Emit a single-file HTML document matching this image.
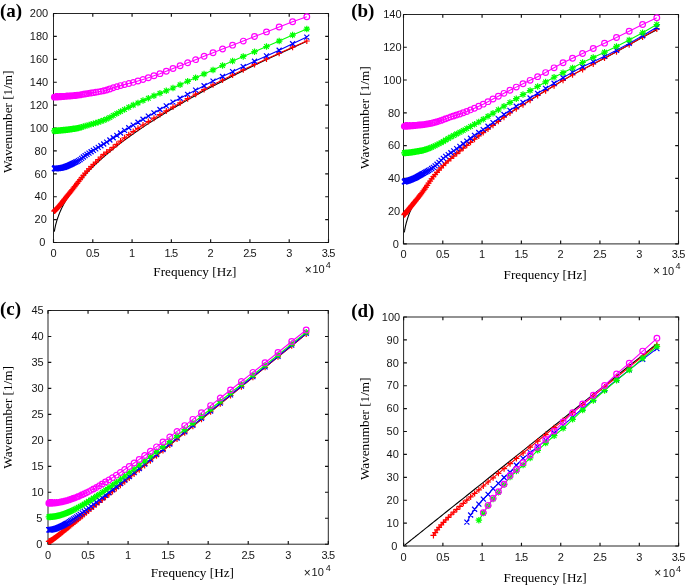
<!DOCTYPE html>
<html><head><meta charset="utf-8"><style>
html,body{margin:0;padding:0;background:#fff;overflow:hidden;width:685px;height:586px;}
svg{display:block;will-change:transform;}
</style></head><body>
<svg width="685" height="586" viewBox="0 0 685 586">
<rect width="685" height="586" fill="#fff"/>
<rect x="53.5" y="13.5" width="275" height="229" fill="none" stroke="#262626" stroke-width="1"/>
<path d="M53.5 242.5v-3.3M53.5 13.5v3.3M92.79 242.5v-3.3M92.79 13.5v3.3M132.07 242.5v-3.3M132.07 13.5v3.3M171.36 242.5v-3.3M171.36 13.5v3.3M210.64 242.5v-3.3M210.64 13.5v3.3M249.93 242.5v-3.3M249.93 13.5v3.3M289.21 242.5v-3.3M289.21 13.5v3.3M328.5 242.5v-3.3M328.5 13.5v3.3M53.5 242.5h3.3M328.5 242.5h-3.3M53.5 219.6h3.3M328.5 219.6h-3.3M53.5 196.7h3.3M328.5 196.7h-3.3M53.5 173.8h3.3M328.5 173.8h-3.3M53.5 150.9h3.3M328.5 150.9h-3.3M53.5 128h3.3M328.5 128h-3.3M53.5 105.1h3.3M328.5 105.1h-3.3M53.5 82.2h3.3M328.5 82.2h-3.3M53.5 59.3h3.3M328.5 59.3h-3.3M53.5 36.4h3.3M328.5 36.4h-3.3M53.5 13.5h3.3M328.5 13.5h-3.3" stroke="#111" stroke-width="1.15" fill="none"/>
<clipPath id="cpa"><rect x="49.5" y="9.5" width="283.0" height="237.0"/></clipPath>
<g clip-path="url(#cpa)" fill="none" stroke-width="1.1">
<polyline stroke="#000000" points="54.33,231.62 54.38,231.3 54.43,230.97 54.49,230.63 54.54,230.28 54.61,229.92 54.67,229.56 54.74,229.18 54.82,228.79 54.89,228.38 54.98,227.97 55.07,227.54 55.16,227.1 55.26,226.65 55.36,226.19 55.47,225.71 55.59,225.22 55.72,224.71 55.85,224.19 55.99,223.65 56.13,223.09 56.29,222.53 56.46,221.94 56.63,221.33 56.82,220.71 57.02,220.07 57.23,219.41 57.45,218.74 57.68,218.04 57.93,217.32 58.2,216.58 58.48,215.82 58.77,215.03 59.08,214.23 59.42,213.4 59.77,212.54 60.14,211.66 60.54,210.75 60.96,209.82 61.4,208.86 61.87,207.87 62.37,206.85 62.9,205.8 63.45,204.72 64.05,203.6 64.67,202.46 65.34,201.28 66.04,200.06 66.79,198.81 67.58,197.52 68.42,196.19 69.31,194.82 70.25,193.42 71.24,191.97 72.3,190.47 73.42,188.93 74.6,187.35 75.86,185.71 77.19,184.03 78.6,182.3 80.09,180.51 81.67,178.67 83.35,176.77 85.12,174.82 87.01,172.81 89,170.73 91.11,168.59 93.35,166.38 95.72,164.11 98.23,161.77 100.89,159.35 103.71,156.86 106.7,154.28 109.87,151.63 113.22,148.9 116.78,146.08 120.54,143.16 124.53,140.16 128.76,137.06 133.23,133.86 137.98,130.55 143,127.14 148.33,123.62 153.97,119.98 159.95,116.22 166.28,112.33 172.99,108.31 180.1,104.16 187.64,99.86 195.62,95.42 204.07,90.82 213.03,86.07 222.53,81.14 232.58,76.04 243.24,70.76 254.53,65.29 266.49,59.61 279.16,53.73 292.59,47.63 306.81,41.32"/>
<polyline stroke="#ff0000" points="54.33,211.04 54.38,210.99 54.43,210.95 54.49,210.89 54.54,210.84 54.61,210.78 54.67,210.71 54.74,210.65 54.82,210.57 54.89,210.5 54.98,210.42 55.07,210.33 55.16,210.24 55.26,210.14 55.36,210.04 55.47,209.93 55.59,209.81 55.72,209.69 55.85,209.56 55.99,209.41 56.13,209.26 56.29,209.1 56.46,208.93 56.63,208.75 56.82,208.56 57.02,208.35 57.23,208.13 57.45,207.89 57.68,207.64 57.93,207.37 58.2,207.09 58.48,206.78 58.77,206.45 59.08,206.1 59.42,205.73 59.77,205.33 60.14,204.9 60.54,204.43 60.96,203.92 61.4,203.37 61.87,202.77 62.37,202.13 62.9,201.44 63.45,200.71 64.05,199.92 64.67,199.1 65.34,198.24 66.04,197.34 66.79,196.4 67.58,195.42 68.42,194.38 69.31,193.28 70.25,192.11 71.24,190.87 72.3,189.54 73.42,188.12 74.6,186.61 75.86,185 77.19,183.3 78.6,181.49 80.09,179.57 81.67,177.55 83.35,175.39 85.12,173.18 87.01,171.04 89,168.87 91.11,166.66 93.35,164.4 95.72,162.05 98.23,159.56 100.89,156.99 103.71,154.44 106.7,152.08 109.87,149.95 113.22,147.37 116.78,144.35 120.54,141.08 124.53,137.81 128.76,134.67 133.23,131.5 137.98,128.28 143,124.98 148.33,121.59 153.97,118.13 159.95,114.61 166.28,110.96 172.99,107.08 180.1,102.94 187.64,98.63 195.62,94.17 204.07,89.52 213.03,84.77 222.53,80.01 232.58,75.09 243.24,69.84 254.53,64.39 266.49,58.88 279.16,53.19 292.59,47.19 306.81,40.98"/>
<path stroke="#ff0000" stroke-width="1.2" d="M51.33 211.04h6M54.33 208.04v6M51.38 210.99h6M54.38 207.99v6M51.43 210.95h6M54.43 207.95v6M51.49 210.89h6M54.49 207.89v6M51.54 210.84h6M54.54 207.84v6M51.61 210.78h6M54.61 207.78v6M51.67 210.71h6M54.67 207.71v6M51.74 210.65h6M54.74 207.65v6M51.82 210.57h6M54.82 207.57v6M51.89 210.5h6M54.89 207.5v6M51.98 210.42h6M54.98 207.42v6M52.07 210.33h6M55.07 207.33v6M52.16 210.24h6M55.16 207.24v6M52.26 210.14h6M55.26 207.14v6M52.36 210.04h6M55.36 207.04v6M52.47 209.93h6M55.47 206.93v6M52.59 209.81h6M55.59 206.81v6M52.72 209.69h6M55.72 206.69v6M52.85 209.56h6M55.85 206.56v6M52.99 209.41h6M55.99 206.41v6M53.13 209.26h6M56.13 206.26v6M53.29 209.1h6M56.29 206.1v6M53.46 208.93h6M56.46 205.93v6M53.63 208.75h6M56.63 205.75v6M53.82 208.56h6M56.82 205.56v6M54.02 208.35h6M57.02 205.35v6M54.23 208.13h6M57.23 205.13v6M54.45 207.89h6M57.45 204.89v6M54.68 207.64h6M57.68 204.64v6M54.93 207.37h6M57.93 204.37v6M55.2 207.09h6M58.2 204.09v6M55.48 206.78h6M58.48 203.78v6M55.77 206.45h6M58.77 203.45v6M56.08 206.1h6M59.08 203.1v6M56.42 205.73h6M59.42 202.73v6M56.77 205.33h6M59.77 202.33v6M57.14 204.9h6M60.14 201.9v6M57.54 204.43h6M60.54 201.43v6M57.96 203.92h6M60.96 200.92v6M58.4 203.37h6M61.4 200.37v6M58.87 202.77h6M61.87 199.77v6M59.37 202.13h6M62.37 199.13v6M59.9 201.44h6M62.9 198.44v6M60.45 200.71h6M63.45 197.71v6M61.05 199.92h6M64.05 196.92v6M61.67 199.1h6M64.67 196.1v6M62.34 198.24h6M65.34 195.24v6M63.04 197.34h6M66.04 194.34v6M63.79 196.4h6M66.79 193.4v6M64.58 195.42h6M67.58 192.42v6M65.42 194.38h6M68.42 191.38v6M66.31 193.28h6M69.31 190.28v6M67.25 192.11h6M70.25 189.11v6M68.24 190.87h6M71.24 187.87v6M69.3 189.54h6M72.3 186.54v6M70.42 188.12h6M73.42 185.12v6M71.6 186.61h6M74.6 183.61v6M72.86 185h6M75.86 182v6M74.19 183.3h6M77.19 180.3v6M75.6 181.49h6M78.6 178.49v6M77.09 179.57h6M80.09 176.57v6M78.67 177.55h6M81.67 174.55v6M80.35 175.39h6M83.35 172.39v6M82.12 173.18h6M85.12 170.18v6M84.01 171.04h6M87.01 168.04v6M86 168.87h6M89 165.87v6M88.11 166.66h6M91.11 163.66v6M90.35 164.4h6M93.35 161.4v6M92.72 162.05h6M95.72 159.05v6M95.23 159.56h6M98.23 156.56v6M97.89 156.99h6M100.89 153.99v6M100.71 154.44h6M103.71 151.44v6M103.7 152.08h6M106.7 149.08v6M106.87 149.95h6M109.87 146.95v6M110.22 147.37h6M113.22 144.37v6M113.78 144.35h6M116.78 141.35v6M117.54 141.08h6M120.54 138.08v6M121.53 137.81h6M124.53 134.81v6M125.76 134.67h6M128.76 131.67v6M130.23 131.5h6M133.23 128.5v6M134.98 128.28h6M137.98 125.28v6M140 124.98h6M143 121.98v6M145.33 121.59h6M148.33 118.59v6M150.97 118.13h6M153.97 115.13v6M156.95 114.61h6M159.95 111.61v6M163.28 110.96h6M166.28 107.96v6M169.99 107.08h6M172.99 104.08v6M177.1 102.94h6M180.1 99.94v6M184.64 98.63h6M187.64 95.63v6M192.62 94.17h6M195.62 91.17v6M201.07 89.52h6M204.07 86.52v6M210.03 84.77h6M213.03 81.77v6M219.53 80.01h6M222.53 77.01v6M229.58 75.09h6M232.58 72.09v6M240.24 69.84h6M243.24 66.84v6M251.53 64.39h6M254.53 61.39v6M263.49 58.88h6M266.49 55.88v6M276.16 53.19h6M279.16 50.19v6M289.59 47.19h6M292.59 44.19v6M303.81 40.98h6M306.81 37.98v6"/>
<polyline stroke="#0000ff" points="54.33,168.64 54.38,168.63 54.43,168.63 54.49,168.63 54.54,168.63 54.61,168.63 54.67,168.62 54.74,168.62 54.82,168.62 54.89,168.61 54.98,168.61 55.07,168.6 55.16,168.6 55.26,168.59 55.36,168.59 55.47,168.58 55.59,168.57 55.72,168.56 55.85,168.55 55.99,168.54 56.13,168.53 56.29,168.52 56.46,168.5 56.63,168.49 56.82,168.47 57.02,168.45 57.23,168.43 57.45,168.4 57.68,168.37 57.93,168.34 58.2,168.31 58.48,168.27 58.77,168.23 59.08,168.19 59.42,168.14 59.77,168.09 60.14,168.03 60.54,167.97 60.96,167.9 61.4,167.83 61.87,167.75 62.37,167.66 62.9,167.54 63.45,167.4 64.05,167.22 64.67,167.01 65.34,166.77 66.04,166.51 66.79,166.21 67.58,165.9 68.42,165.57 69.31,165.19 70.25,164.75 71.24,164.27 72.3,163.74 73.42,163.18 74.6,162.59 75.86,161.99 77.19,161.33 78.6,160.57 80.09,159.63 81.67,158.42 83.35,157.04 85.12,155.68 87.01,154.39 89,153.06 91.11,151.71 93.35,150.32 95.72,148.88 98.23,147.36 100.89,145.75 103.71,144.01 106.7,142.09 109.87,140.02 113.22,137.79 116.78,135.43 120.54,132.96 124.53,130.4 128.76,127.79 133.23,125.07 137.98,122.24 143,119.29 148.33,116.19 153.97,112.92 159.95,109.46 166.28,105.83 172.99,102.09 180.1,98.26 187.64,94.3 195.62,90.14 204.07,85.71 213.03,81.11 222.53,76.46 232.58,71.66 243.24,66.58 254.53,61.29 266.49,55.92 279.16,50.21 292.59,43.76 306.81,37.09"/>
<path stroke="#0000ff" stroke-width="1.2" d="M51.83 166.14l5 5M51.83 171.14l5 -5M51.88 166.13l5 5M51.88 171.13l5 -5M51.93 166.13l5 5M51.93 171.13l5 -5M51.99 166.13l5 5M51.99 171.13l5 -5M52.04 166.13l5 5M52.04 171.13l5 -5M52.11 166.13l5 5M52.11 171.13l5 -5M52.17 166.12l5 5M52.17 171.12l5 -5M52.24 166.12l5 5M52.24 171.12l5 -5M52.32 166.12l5 5M52.32 171.12l5 -5M52.39 166.11l5 5M52.39 171.11l5 -5M52.48 166.11l5 5M52.48 171.11l5 -5M52.57 166.1l5 5M52.57 171.1l5 -5M52.66 166.1l5 5M52.66 171.1l5 -5M52.76 166.09l5 5M52.76 171.09l5 -5M52.86 166.09l5 5M52.86 171.09l5 -5M52.97 166.08l5 5M52.97 171.08l5 -5M53.09 166.07l5 5M53.09 171.07l5 -5M53.22 166.06l5 5M53.22 171.06l5 -5M53.35 166.05l5 5M53.35 171.05l5 -5M53.49 166.04l5 5M53.49 171.04l5 -5M53.63 166.03l5 5M53.63 171.03l5 -5M53.79 166.02l5 5M53.79 171.02l5 -5M53.96 166l5 5M53.96 171l5 -5M54.13 165.99l5 5M54.13 170.99l5 -5M54.32 165.97l5 5M54.32 170.97l5 -5M54.52 165.95l5 5M54.52 170.95l5 -5M54.73 165.93l5 5M54.73 170.93l5 -5M54.95 165.9l5 5M54.95 170.9l5 -5M55.18 165.87l5 5M55.18 170.87l5 -5M55.43 165.84l5 5M55.43 170.84l5 -5M55.7 165.81l5 5M55.7 170.81l5 -5M55.98 165.77l5 5M55.98 170.77l5 -5M56.27 165.73l5 5M56.27 170.73l5 -5M56.58 165.69l5 5M56.58 170.69l5 -5M56.92 165.64l5 5M56.92 170.64l5 -5M57.27 165.59l5 5M57.27 170.59l5 -5M57.64 165.53l5 5M57.64 170.53l5 -5M58.04 165.47l5 5M58.04 170.47l5 -5M58.46 165.4l5 5M58.46 170.4l5 -5M58.9 165.33l5 5M58.9 170.33l5 -5M59.37 165.25l5 5M59.37 170.25l5 -5M59.87 165.16l5 5M59.87 170.16l5 -5M60.4 165.04l5 5M60.4 170.04l5 -5M60.95 164.9l5 5M60.95 169.9l5 -5M61.55 164.72l5 5M61.55 169.72l5 -5M62.17 164.51l5 5M62.17 169.51l5 -5M62.84 164.27l5 5M62.84 169.27l5 -5M63.54 164.01l5 5M63.54 169.01l5 -5M64.29 163.71l5 5M64.29 168.71l5 -5M65.08 163.4l5 5M65.08 168.4l5 -5M65.92 163.07l5 5M65.92 168.07l5 -5M66.81 162.69l5 5M66.81 167.69l5 -5M67.75 162.25l5 5M67.75 167.25l5 -5M68.74 161.77l5 5M68.74 166.77l5 -5M69.8 161.24l5 5M69.8 166.24l5 -5M70.92 160.68l5 5M70.92 165.68l5 -5M72.1 160.09l5 5M72.1 165.09l5 -5M73.36 159.49l5 5M73.36 164.49l5 -5M74.69 158.83l5 5M74.69 163.83l5 -5M76.1 158.07l5 5M76.1 163.07l5 -5M77.59 157.13l5 5M77.59 162.13l5 -5M79.17 155.92l5 5M79.17 160.92l5 -5M80.85 154.54l5 5M80.85 159.54l5 -5M82.62 153.18l5 5M82.62 158.18l5 -5M84.51 151.89l5 5M84.51 156.89l5 -5M86.5 150.56l5 5M86.5 155.56l5 -5M88.61 149.21l5 5M88.61 154.21l5 -5M90.85 147.82l5 5M90.85 152.82l5 -5M93.22 146.38l5 5M93.22 151.38l5 -5M95.73 144.86l5 5M95.73 149.86l5 -5M98.39 143.25l5 5M98.39 148.25l5 -5M101.21 141.51l5 5M101.21 146.51l5 -5M104.2 139.59l5 5M104.2 144.59l5 -5M107.37 137.52l5 5M107.37 142.52l5 -5M110.72 135.29l5 5M110.72 140.29l5 -5M114.28 132.93l5 5M114.28 137.93l5 -5M118.04 130.46l5 5M118.04 135.46l5 -5M122.03 127.9l5 5M122.03 132.9l5 -5M126.26 125.29l5 5M126.26 130.29l5 -5M130.73 122.57l5 5M130.73 127.57l5 -5M135.48 119.74l5 5M135.48 124.74l5 -5M140.5 116.79l5 5M140.5 121.79l5 -5M145.83 113.69l5 5M145.83 118.69l5 -5M151.47 110.42l5 5M151.47 115.42l5 -5M157.45 106.96l5 5M157.45 111.96l5 -5M163.78 103.33l5 5M163.78 108.33l5 -5M170.49 99.59l5 5M170.49 104.59l5 -5M177.6 95.76l5 5M177.6 100.76l5 -5M185.14 91.8l5 5M185.14 96.8l5 -5M193.12 87.64l5 5M193.12 92.64l5 -5M201.57 83.21l5 5M201.57 88.21l5 -5M210.53 78.61l5 5M210.53 83.61l5 -5M220.03 73.96l5 5M220.03 78.96l5 -5M230.08 69.16l5 5M230.08 74.16l5 -5M240.74 64.08l5 5M240.74 69.08l5 -5M252.03 58.79l5 5M252.03 63.79l5 -5M263.99 53.42l5 5M263.99 58.42l5 -5M276.66 47.71l5 5M276.66 52.71l5 -5M290.09 41.26l5 5M290.09 46.26l5 -5M304.31 34.59l5 5M304.31 39.59l5 -5"/>
<polyline stroke="#00ff00" points="54.33,130.92 54.38,130.92 54.43,130.92 54.49,130.91 54.54,130.91 54.61,130.9 54.67,130.9 54.74,130.89 54.82,130.89 54.89,130.88 54.98,130.88 55.07,130.87 55.16,130.86 55.26,130.86 55.36,130.85 55.47,130.84 55.59,130.83 55.72,130.82 55.85,130.81 55.99,130.8 56.13,130.79 56.29,130.78 56.46,130.77 56.63,130.75 56.82,130.74 57.02,130.72 57.23,130.7 57.45,130.68 57.68,130.66 57.93,130.64 58.2,130.62 58.48,130.6 58.77,130.57 59.08,130.54 59.42,130.51 59.77,130.48 60.14,130.44 60.54,130.4 60.96,130.36 61.4,130.32 61.87,130.27 62.37,130.22 62.9,130.16 63.45,130.1 64.05,130.04 64.67,129.97 65.34,129.9 66.04,129.82 66.79,129.73 67.58,129.63 68.42,129.53 69.31,129.42 70.25,129.29 71.24,129.15 72.3,129 73.42,128.83 74.6,128.64 75.86,128.43 77.19,128.19 78.6,127.91 80.09,127.58 81.67,127.14 83.35,126.6 85.12,126.04 87.01,125.48 89,124.91 91.11,124.31 93.35,123.67 95.72,122.98 98.23,122.21 100.89,121.33 103.71,120.31 106.7,119.06 109.87,117.41 113.22,115.51 116.78,113.6 120.54,111.59 124.53,109.46 128.76,107.29 133.23,105.12 137.98,102.9 143,100.61 148.33,98.26 153.97,95.81 159.95,93.32 166.28,90.78 172.99,88.01 180.1,84.84 187.64,81.34 195.62,77.67 204.07,73.9 213.03,69.91 222.53,65.56 232.58,61 243.24,56.42 254.53,51.65 266.49,46.53 279.16,41.05 292.59,35.05 306.81,29.07"/>
<path stroke="#00ff00" stroke-width="1.2" d="M51.08 130.92h6.5M54.33 127.67v6.5M51.99 128.58l4.68 4.68M51.99 133.26l4.68 -4.68M51.13 130.92h6.5M54.38 127.67v6.5M52.04 128.58l4.68 4.68M52.04 133.26l4.68 -4.68M51.18 130.92h6.5M54.43 127.67v6.5M52.09 128.58l4.68 4.68M52.09 133.26l4.68 -4.68M51.24 130.91h6.5M54.49 127.66v6.5M52.15 128.57l4.68 4.68M52.15 133.25l4.68 -4.68M51.29 130.91h6.5M54.54 127.66v6.5M52.2 128.57l4.68 4.68M52.2 133.25l4.68 -4.68M51.36 130.9h6.5M54.61 127.65v6.5M52.27 128.56l4.68 4.68M52.27 133.24l4.68 -4.68M51.42 130.9h6.5M54.67 127.65v6.5M52.33 128.56l4.68 4.68M52.33 133.24l4.68 -4.68M51.49 130.89h6.5M54.74 127.64v6.5M52.4 128.55l4.68 4.68M52.4 133.23l4.68 -4.68M51.57 130.89h6.5M54.82 127.64v6.5M52.48 128.55l4.68 4.68M52.48 133.23l4.68 -4.68M51.64 130.88h6.5M54.89 127.63v6.5M52.55 128.54l4.68 4.68M52.55 133.22l4.68 -4.68M51.73 130.88h6.5M54.98 127.63v6.5M52.64 128.54l4.68 4.68M52.64 133.22l4.68 -4.68M51.82 130.87h6.5M55.07 127.62v6.5M52.73 128.53l4.68 4.68M52.73 133.21l4.68 -4.68M51.91 130.86h6.5M55.16 127.61v6.5M52.82 128.52l4.68 4.68M52.82 133.2l4.68 -4.68M52.01 130.86h6.5M55.26 127.61v6.5M52.92 128.52l4.68 4.68M52.92 133.2l4.68 -4.68M52.11 130.85h6.5M55.36 127.6v6.5M53.02 128.51l4.68 4.68M53.02 133.19l4.68 -4.68M52.22 130.84h6.5M55.47 127.59v6.5M53.13 128.5l4.68 4.68M53.13 133.18l4.68 -4.68M52.34 130.83h6.5M55.59 127.58v6.5M53.25 128.49l4.68 4.68M53.25 133.17l4.68 -4.68M52.47 130.82h6.5M55.72 127.57v6.5M53.38 128.48l4.68 4.68M53.38 133.16l4.68 -4.68M52.6 130.81h6.5M55.85 127.56v6.5M53.51 128.47l4.68 4.68M53.51 133.15l4.68 -4.68M52.74 130.8h6.5M55.99 127.55v6.5M53.65 128.46l4.68 4.68M53.65 133.14l4.68 -4.68M52.88 130.79h6.5M56.13 127.54v6.5M53.79 128.45l4.68 4.68M53.79 133.13l4.68 -4.68M53.04 130.78h6.5M56.29 127.53v6.5M53.95 128.44l4.68 4.68M53.95 133.12l4.68 -4.68M53.21 130.77h6.5M56.46 127.52v6.5M54.12 128.43l4.68 4.68M54.12 133.11l4.68 -4.68M53.38 130.75h6.5M56.63 127.5v6.5M54.29 128.41l4.68 4.68M54.29 133.09l4.68 -4.68M53.57 130.74h6.5M56.82 127.49v6.5M54.48 128.4l4.68 4.68M54.48 133.08l4.68 -4.68M53.77 130.72h6.5M57.02 127.47v6.5M54.68 128.38l4.68 4.68M54.68 133.06l4.68 -4.68M53.98 130.7h6.5M57.23 127.45v6.5M54.89 128.36l4.68 4.68M54.89 133.04l4.68 -4.68M54.2 130.68h6.5M57.45 127.43v6.5M55.11 128.34l4.68 4.68M55.11 133.02l4.68 -4.68M54.43 130.66h6.5M57.68 127.41v6.5M55.34 128.32l4.68 4.68M55.34 133l4.68 -4.68M54.68 130.64h6.5M57.93 127.39v6.5M55.59 128.3l4.68 4.68M55.59 132.98l4.68 -4.68M54.95 130.62h6.5M58.2 127.37v6.5M55.86 128.28l4.68 4.68M55.86 132.96l4.68 -4.68M55.23 130.6h6.5M58.48 127.35v6.5M56.14 128.26l4.68 4.68M56.14 132.94l4.68 -4.68M55.52 130.57h6.5M58.77 127.32v6.5M56.43 128.23l4.68 4.68M56.43 132.91l4.68 -4.68M55.83 130.54h6.5M59.08 127.29v6.5M56.74 128.2l4.68 4.68M56.74 132.88l4.68 -4.68M56.17 130.51h6.5M59.42 127.26v6.5M57.08 128.17l4.68 4.68M57.08 132.85l4.68 -4.68M56.52 130.48h6.5M59.77 127.23v6.5M57.43 128.14l4.68 4.68M57.43 132.82l4.68 -4.68M56.89 130.44h6.5M60.14 127.19v6.5M57.8 128.1l4.68 4.68M57.8 132.78l4.68 -4.68M57.29 130.4h6.5M60.54 127.15v6.5M58.2 128.06l4.68 4.68M58.2 132.74l4.68 -4.68M57.71 130.36h6.5M60.96 127.11v6.5M58.62 128.02l4.68 4.68M58.62 132.7l4.68 -4.68M58.15 130.32h6.5M61.4 127.07v6.5M59.06 127.98l4.68 4.68M59.06 132.66l4.68 -4.68M58.62 130.27h6.5M61.87 127.02v6.5M59.53 127.93l4.68 4.68M59.53 132.61l4.68 -4.68M59.12 130.22h6.5M62.37 126.97v6.5M60.03 127.88l4.68 4.68M60.03 132.56l4.68 -4.68M59.65 130.16h6.5M62.9 126.91v6.5M60.56 127.82l4.68 4.68M60.56 132.5l4.68 -4.68M60.2 130.1h6.5M63.45 126.85v6.5M61.11 127.76l4.68 4.68M61.11 132.44l4.68 -4.68M60.8 130.04h6.5M64.05 126.79v6.5M61.71 127.7l4.68 4.68M61.71 132.38l4.68 -4.68M61.42 129.97h6.5M64.67 126.72v6.5M62.33 127.63l4.68 4.68M62.33 132.31l4.68 -4.68M62.09 129.9h6.5M65.34 126.65v6.5M63 127.56l4.68 4.68M63 132.24l4.68 -4.68M62.79 129.82h6.5M66.04 126.57v6.5M63.7 127.48l4.68 4.68M63.7 132.16l4.68 -4.68M63.54 129.73h6.5M66.79 126.48v6.5M64.45 127.39l4.68 4.68M64.45 132.07l4.68 -4.68M64.33 129.63h6.5M67.58 126.38v6.5M65.24 127.29l4.68 4.68M65.24 131.97l4.68 -4.68M65.17 129.53h6.5M68.42 126.28v6.5M66.08 127.19l4.68 4.68M66.08 131.87l4.68 -4.68M66.06 129.42h6.5M69.31 126.17v6.5M66.97 127.08l4.68 4.68M66.97 131.76l4.68 -4.68M67 129.29h6.5M70.25 126.04v6.5M67.91 126.95l4.68 4.68M67.91 131.63l4.68 -4.68M67.99 129.15h6.5M71.24 125.9v6.5M68.9 126.81l4.68 4.68M68.9 131.49l4.68 -4.68M69.05 129h6.5M72.3 125.75v6.5M69.96 126.66l4.68 4.68M69.96 131.34l4.68 -4.68M70.17 128.83h6.5M73.42 125.58v6.5M71.08 126.49l4.68 4.68M71.08 131.17l4.68 -4.68M71.35 128.64h6.5M74.6 125.39v6.5M72.26 126.3l4.68 4.68M72.26 130.98l4.68 -4.68M72.61 128.43h6.5M75.86 125.18v6.5M73.52 126.09l4.68 4.68M73.52 130.77l4.68 -4.68M73.94 128.19h6.5M77.19 124.94v6.5M74.85 125.85l4.68 4.68M74.85 130.53l4.68 -4.68M75.35 127.91h6.5M78.6 124.66v6.5M76.26 125.57l4.68 4.68M76.26 130.25l4.68 -4.68M76.84 127.58h6.5M80.09 124.33v6.5M77.75 125.24l4.68 4.68M77.75 129.92l4.68 -4.68M78.42 127.14h6.5M81.67 123.89v6.5M79.33 124.8l4.68 4.68M79.33 129.48l4.68 -4.68M80.1 126.6h6.5M83.35 123.35v6.5M81.01 124.26l4.68 4.68M81.01 128.94l4.68 -4.68M81.87 126.04h6.5M85.12 122.79v6.5M82.78 123.7l4.68 4.68M82.78 128.38l4.68 -4.68M83.76 125.48h6.5M87.01 122.23v6.5M84.67 123.14l4.68 4.68M84.67 127.82l4.68 -4.68M85.75 124.91h6.5M89 121.66v6.5M86.66 122.57l4.68 4.68M86.66 127.25l4.68 -4.68M87.86 124.31h6.5M91.11 121.06v6.5M88.77 121.97l4.68 4.68M88.77 126.65l4.68 -4.68M90.1 123.67h6.5M93.35 120.42v6.5M91.01 121.33l4.68 4.68M91.01 126.01l4.68 -4.68M92.47 122.98h6.5M95.72 119.73v6.5M93.38 120.64l4.68 4.68M93.38 125.32l4.68 -4.68M94.98 122.21h6.5M98.23 118.96v6.5M95.89 119.87l4.68 4.68M95.89 124.55l4.68 -4.68M97.64 121.33h6.5M100.89 118.08v6.5M98.55 118.99l4.68 4.68M98.55 123.67l4.68 -4.68M100.46 120.31h6.5M103.71 117.06v6.5M101.37 117.97l4.68 4.68M101.37 122.65l4.68 -4.68M103.45 119.06h6.5M106.7 115.81v6.5M104.36 116.72l4.68 4.68M104.36 121.4l4.68 -4.68M106.62 117.41h6.5M109.87 114.16v6.5M107.53 115.07l4.68 4.68M107.53 119.75l4.68 -4.68M109.97 115.51h6.5M113.22 112.26v6.5M110.88 113.17l4.68 4.68M110.88 117.85l4.68 -4.68M113.53 113.6h6.5M116.78 110.35v6.5M114.44 111.26l4.68 4.68M114.44 115.94l4.68 -4.68M117.29 111.59h6.5M120.54 108.34v6.5M118.2 109.25l4.68 4.68M118.2 113.93l4.68 -4.68M121.28 109.46h6.5M124.53 106.21v6.5M122.19 107.12l4.68 4.68M122.19 111.8l4.68 -4.68M125.51 107.29h6.5M128.76 104.04v6.5M126.42 104.95l4.68 4.68M126.42 109.63l4.68 -4.68M129.98 105.12h6.5M133.23 101.87v6.5M130.89 102.78l4.68 4.68M130.89 107.46l4.68 -4.68M134.73 102.9h6.5M137.98 99.65v6.5M135.64 100.56l4.68 4.68M135.64 105.24l4.68 -4.68M139.75 100.61h6.5M143 97.36v6.5M140.66 98.27l4.68 4.68M140.66 102.95l4.68 -4.68M145.08 98.26h6.5M148.33 95.01v6.5M145.99 95.92l4.68 4.68M145.99 100.6l4.68 -4.68M150.72 95.81h6.5M153.97 92.56v6.5M151.63 93.47l4.68 4.68M151.63 98.15l4.68 -4.68M156.7 93.32h6.5M159.95 90.07v6.5M157.61 90.98l4.68 4.68M157.61 95.66l4.68 -4.68M163.03 90.78h6.5M166.28 87.53v6.5M163.94 88.44l4.68 4.68M163.94 93.12l4.68 -4.68M169.74 88.01h6.5M172.99 84.76v6.5M170.65 85.67l4.68 4.68M170.65 90.35l4.68 -4.68M176.85 84.84h6.5M180.1 81.59v6.5M177.76 82.5l4.68 4.68M177.76 87.18l4.68 -4.68M184.39 81.34h6.5M187.64 78.09v6.5M185.3 79l4.68 4.68M185.3 83.68l4.68 -4.68M192.37 77.67h6.5M195.62 74.42v6.5M193.28 75.33l4.68 4.68M193.28 80.01l4.68 -4.68M200.82 73.9h6.5M204.07 70.65v6.5M201.73 71.56l4.68 4.68M201.73 76.24l4.68 -4.68M209.78 69.91h6.5M213.03 66.66v6.5M210.69 67.57l4.68 4.68M210.69 72.25l4.68 -4.68M219.28 65.56h6.5M222.53 62.31v6.5M220.19 63.22l4.68 4.68M220.19 67.9l4.68 -4.68M229.33 61h6.5M232.58 57.75v6.5M230.24 58.66l4.68 4.68M230.24 63.34l4.68 -4.68M239.99 56.42h6.5M243.24 53.17v6.5M240.9 54.08l4.68 4.68M240.9 58.76l4.68 -4.68M251.28 51.65h6.5M254.53 48.4v6.5M252.19 49.31l4.68 4.68M252.19 53.99l4.68 -4.68M263.24 46.53h6.5M266.49 43.28v6.5M264.15 44.19l4.68 4.68M264.15 48.87l4.68 -4.68M275.91 41.05h6.5M279.16 37.8v6.5M276.82 38.71l4.68 4.68M276.82 43.39l4.68 -4.68M289.34 35.05h6.5M292.59 31.8v6.5M290.25 32.71l4.68 4.68M290.25 37.39l4.68 -4.68M303.56 29.07h6.5M306.81 25.82v6.5M304.47 26.73l4.68 4.68M304.47 31.41l4.68 -4.68"/>
<polyline stroke="#ff00ff" points="54.33,97.15 54.38,97.15 54.43,97.14 54.49,97.14 54.54,97.14 54.61,97.13 54.67,97.13 54.74,97.12 54.82,97.12 54.89,97.11 54.98,97.11 55.07,97.1 55.16,97.1 55.26,97.09 55.36,97.09 55.47,97.08 55.59,97.07 55.72,97.06 55.85,97.05 55.99,97.05 56.13,97.04 56.29,97.03 56.46,97.02 56.63,97 56.82,96.99 57.02,96.98 57.23,96.96 57.45,96.95 57.68,96.93 57.93,96.92 58.2,96.9 58.48,96.88 58.77,96.86 59.08,96.84 59.42,96.81 59.77,96.79 60.14,96.76 60.54,96.73 60.96,96.7 61.4,96.67 61.87,96.63 62.37,96.6 62.9,96.56 63.45,96.51 64.05,96.47 64.67,96.42 65.34,96.36 66.04,96.31 66.79,96.25 67.58,96.18 68.42,96.11 69.31,96.04 70.25,95.96 71.24,95.87 72.3,95.78 73.42,95.67 74.6,95.56 75.86,95.43 77.19,95.28 78.6,95.11 80.09,94.91 81.67,94.64 83.35,94.32 85.12,93.99 87.01,93.66 89,93.34 91.11,93 93.35,92.65 95.72,92.27 98.23,91.85 100.89,91.36 103.71,90.77 106.7,90.01 109.87,88.94 113.22,87.73 116.78,86.64 120.54,85.62 124.53,84.62 128.76,83.57 133.23,82.4 137.98,81.01 143,79.45 148.33,77.7 153.97,75.77 159.95,73.65 166.28,71.23 172.99,68.55 180.1,65.77 187.64,62.81 195.62,59.66 204.07,56.3 213.03,52.73 222.53,48.98 232.58,45.16 243.24,41.09 254.53,36.52 266.49,31.91 279.16,27.07 292.59,21.75 306.81,16.71"/>
<path stroke="#ff00ff" stroke-width="1.2" d="M51.48 97.15a2.85 2.85 0 1 0 5.7 0a2.85 2.85 0 1 0 -5.7 0M51.53 97.15a2.85 2.85 0 1 0 5.7 0a2.85 2.85 0 1 0 -5.7 0M51.58 97.14a2.85 2.85 0 1 0 5.7 0a2.85 2.85 0 1 0 -5.7 0M51.64 97.14a2.85 2.85 0 1 0 5.7 0a2.85 2.85 0 1 0 -5.7 0M51.69 97.14a2.85 2.85 0 1 0 5.7 0a2.85 2.85 0 1 0 -5.7 0M51.76 97.13a2.85 2.85 0 1 0 5.7 0a2.85 2.85 0 1 0 -5.7 0M51.82 97.13a2.85 2.85 0 1 0 5.7 0a2.85 2.85 0 1 0 -5.7 0M51.89 97.12a2.85 2.85 0 1 0 5.7 0a2.85 2.85 0 1 0 -5.7 0M51.97 97.12a2.85 2.85 0 1 0 5.7 0a2.85 2.85 0 1 0 -5.7 0M52.04 97.11a2.85 2.85 0 1 0 5.7 0a2.85 2.85 0 1 0 -5.7 0M52.13 97.11a2.85 2.85 0 1 0 5.7 0a2.85 2.85 0 1 0 -5.7 0M52.22 97.1a2.85 2.85 0 1 0 5.7 0a2.85 2.85 0 1 0 -5.7 0M52.31 97.1a2.85 2.85 0 1 0 5.7 0a2.85 2.85 0 1 0 -5.7 0M52.41 97.09a2.85 2.85 0 1 0 5.7 0a2.85 2.85 0 1 0 -5.7 0M52.51 97.09a2.85 2.85 0 1 0 5.7 0a2.85 2.85 0 1 0 -5.7 0M52.62 97.08a2.85 2.85 0 1 0 5.7 0a2.85 2.85 0 1 0 -5.7 0M52.74 97.07a2.85 2.85 0 1 0 5.7 0a2.85 2.85 0 1 0 -5.7 0M52.87 97.06a2.85 2.85 0 1 0 5.7 0a2.85 2.85 0 1 0 -5.7 0M53 97.05a2.85 2.85 0 1 0 5.7 0a2.85 2.85 0 1 0 -5.7 0M53.14 97.05a2.85 2.85 0 1 0 5.7 0a2.85 2.85 0 1 0 -5.7 0M53.28 97.04a2.85 2.85 0 1 0 5.7 0a2.85 2.85 0 1 0 -5.7 0M53.44 97.03a2.85 2.85 0 1 0 5.7 0a2.85 2.85 0 1 0 -5.7 0M53.61 97.02a2.85 2.85 0 1 0 5.7 0a2.85 2.85 0 1 0 -5.7 0M53.78 97a2.85 2.85 0 1 0 5.7 0a2.85 2.85 0 1 0 -5.7 0M53.97 96.99a2.85 2.85 0 1 0 5.7 0a2.85 2.85 0 1 0 -5.7 0M54.17 96.98a2.85 2.85 0 1 0 5.7 0a2.85 2.85 0 1 0 -5.7 0M54.38 96.96a2.85 2.85 0 1 0 5.7 0a2.85 2.85 0 1 0 -5.7 0M54.6 96.95a2.85 2.85 0 1 0 5.7 0a2.85 2.85 0 1 0 -5.7 0M54.83 96.93a2.85 2.85 0 1 0 5.7 0a2.85 2.85 0 1 0 -5.7 0M55.08 96.92a2.85 2.85 0 1 0 5.7 0a2.85 2.85 0 1 0 -5.7 0M55.35 96.9a2.85 2.85 0 1 0 5.7 0a2.85 2.85 0 1 0 -5.7 0M55.63 96.88a2.85 2.85 0 1 0 5.7 0a2.85 2.85 0 1 0 -5.7 0M55.92 96.86a2.85 2.85 0 1 0 5.7 0a2.85 2.85 0 1 0 -5.7 0M56.23 96.84a2.85 2.85 0 1 0 5.7 0a2.85 2.85 0 1 0 -5.7 0M56.57 96.81a2.85 2.85 0 1 0 5.7 0a2.85 2.85 0 1 0 -5.7 0M56.92 96.79a2.85 2.85 0 1 0 5.7 0a2.85 2.85 0 1 0 -5.7 0M57.29 96.76a2.85 2.85 0 1 0 5.7 0a2.85 2.85 0 1 0 -5.7 0M57.69 96.73a2.85 2.85 0 1 0 5.7 0a2.85 2.85 0 1 0 -5.7 0M58.11 96.7a2.85 2.85 0 1 0 5.7 0a2.85 2.85 0 1 0 -5.7 0M58.55 96.67a2.85 2.85 0 1 0 5.7 0a2.85 2.85 0 1 0 -5.7 0M59.02 96.63a2.85 2.85 0 1 0 5.7 0a2.85 2.85 0 1 0 -5.7 0M59.52 96.6a2.85 2.85 0 1 0 5.7 0a2.85 2.85 0 1 0 -5.7 0M60.05 96.56a2.85 2.85 0 1 0 5.7 0a2.85 2.85 0 1 0 -5.7 0M60.6 96.51a2.85 2.85 0 1 0 5.7 0a2.85 2.85 0 1 0 -5.7 0M61.2 96.47a2.85 2.85 0 1 0 5.7 0a2.85 2.85 0 1 0 -5.7 0M61.82 96.42a2.85 2.85 0 1 0 5.7 0a2.85 2.85 0 1 0 -5.7 0M62.49 96.36a2.85 2.85 0 1 0 5.7 0a2.85 2.85 0 1 0 -5.7 0M63.19 96.31a2.85 2.85 0 1 0 5.7 0a2.85 2.85 0 1 0 -5.7 0M63.94 96.25a2.85 2.85 0 1 0 5.7 0a2.85 2.85 0 1 0 -5.7 0M64.73 96.18a2.85 2.85 0 1 0 5.7 0a2.85 2.85 0 1 0 -5.7 0M65.57 96.11a2.85 2.85 0 1 0 5.7 0a2.85 2.85 0 1 0 -5.7 0M66.46 96.04a2.85 2.85 0 1 0 5.7 0a2.85 2.85 0 1 0 -5.7 0M67.4 95.96a2.85 2.85 0 1 0 5.7 0a2.85 2.85 0 1 0 -5.7 0M68.39 95.87a2.85 2.85 0 1 0 5.7 0a2.85 2.85 0 1 0 -5.7 0M69.45 95.78a2.85 2.85 0 1 0 5.7 0a2.85 2.85 0 1 0 -5.7 0M70.57 95.67a2.85 2.85 0 1 0 5.7 0a2.85 2.85 0 1 0 -5.7 0M71.75 95.56a2.85 2.85 0 1 0 5.7 0a2.85 2.85 0 1 0 -5.7 0M73.01 95.43a2.85 2.85 0 1 0 5.7 0a2.85 2.85 0 1 0 -5.7 0M74.34 95.28a2.85 2.85 0 1 0 5.7 0a2.85 2.85 0 1 0 -5.7 0M75.75 95.11a2.85 2.85 0 1 0 5.7 0a2.85 2.85 0 1 0 -5.7 0M77.24 94.91a2.85 2.85 0 1 0 5.7 0a2.85 2.85 0 1 0 -5.7 0M78.82 94.64a2.85 2.85 0 1 0 5.7 0a2.85 2.85 0 1 0 -5.7 0M80.5 94.32a2.85 2.85 0 1 0 5.7 0a2.85 2.85 0 1 0 -5.7 0M82.27 93.99a2.85 2.85 0 1 0 5.7 0a2.85 2.85 0 1 0 -5.7 0M84.16 93.66a2.85 2.85 0 1 0 5.7 0a2.85 2.85 0 1 0 -5.7 0M86.15 93.34a2.85 2.85 0 1 0 5.7 0a2.85 2.85 0 1 0 -5.7 0M88.26 93a2.85 2.85 0 1 0 5.7 0a2.85 2.85 0 1 0 -5.7 0M90.5 92.65a2.85 2.85 0 1 0 5.7 0a2.85 2.85 0 1 0 -5.7 0M92.87 92.27a2.85 2.85 0 1 0 5.7 0a2.85 2.85 0 1 0 -5.7 0M95.38 91.85a2.85 2.85 0 1 0 5.7 0a2.85 2.85 0 1 0 -5.7 0M98.04 91.36a2.85 2.85 0 1 0 5.7 0a2.85 2.85 0 1 0 -5.7 0M100.86 90.77a2.85 2.85 0 1 0 5.7 0a2.85 2.85 0 1 0 -5.7 0M103.85 90.01a2.85 2.85 0 1 0 5.7 0a2.85 2.85 0 1 0 -5.7 0M107.02 88.94a2.85 2.85 0 1 0 5.7 0a2.85 2.85 0 1 0 -5.7 0M110.37 87.73a2.85 2.85 0 1 0 5.7 0a2.85 2.85 0 1 0 -5.7 0M113.93 86.64a2.85 2.85 0 1 0 5.7 0a2.85 2.85 0 1 0 -5.7 0M117.69 85.62a2.85 2.85 0 1 0 5.7 0a2.85 2.85 0 1 0 -5.7 0M121.68 84.62a2.85 2.85 0 1 0 5.7 0a2.85 2.85 0 1 0 -5.7 0M125.91 83.57a2.85 2.85 0 1 0 5.7 0a2.85 2.85 0 1 0 -5.7 0M130.38 82.4a2.85 2.85 0 1 0 5.7 0a2.85 2.85 0 1 0 -5.7 0M135.13 81.01a2.85 2.85 0 1 0 5.7 0a2.85 2.85 0 1 0 -5.7 0M140.15 79.45a2.85 2.85 0 1 0 5.7 0a2.85 2.85 0 1 0 -5.7 0M145.48 77.7a2.85 2.85 0 1 0 5.7 0a2.85 2.85 0 1 0 -5.7 0M151.12 75.77a2.85 2.85 0 1 0 5.7 0a2.85 2.85 0 1 0 -5.7 0M157.1 73.65a2.85 2.85 0 1 0 5.7 0a2.85 2.85 0 1 0 -5.7 0M163.43 71.23a2.85 2.85 0 1 0 5.7 0a2.85 2.85 0 1 0 -5.7 0M170.14 68.55a2.85 2.85 0 1 0 5.7 0a2.85 2.85 0 1 0 -5.7 0M177.25 65.77a2.85 2.85 0 1 0 5.7 0a2.85 2.85 0 1 0 -5.7 0M184.79 62.81a2.85 2.85 0 1 0 5.7 0a2.85 2.85 0 1 0 -5.7 0M192.77 59.66a2.85 2.85 0 1 0 5.7 0a2.85 2.85 0 1 0 -5.7 0M201.22 56.3a2.85 2.85 0 1 0 5.7 0a2.85 2.85 0 1 0 -5.7 0M210.18 52.73a2.85 2.85 0 1 0 5.7 0a2.85 2.85 0 1 0 -5.7 0M219.68 48.98a2.85 2.85 0 1 0 5.7 0a2.85 2.85 0 1 0 -5.7 0M229.73 45.16a2.85 2.85 0 1 0 5.7 0a2.85 2.85 0 1 0 -5.7 0M240.39 41.09a2.85 2.85 0 1 0 5.7 0a2.85 2.85 0 1 0 -5.7 0M251.68 36.52a2.85 2.85 0 1 0 5.7 0a2.85 2.85 0 1 0 -5.7 0M263.64 31.91a2.85 2.85 0 1 0 5.7 0a2.85 2.85 0 1 0 -5.7 0M276.31 27.07a2.85 2.85 0 1 0 5.7 0a2.85 2.85 0 1 0 -5.7 0M289.74 21.75a2.85 2.85 0 1 0 5.7 0a2.85 2.85 0 1 0 -5.7 0M303.96 16.71a2.85 2.85 0 1 0 5.7 0a2.85 2.85 0 1 0 -5.7 0"/>
</g>
<g font-family="Liberation Sans, sans-serif" font-size="11" fill="#161616">
<text x="53.5" y="257.0" text-anchor="middle">0</text>
<text x="92.79" y="257.0" text-anchor="middle">0<tspan dx="-0.9">.</tspan><tspan dx="-0.9">5</tspan></text>
<text x="132.07" y="257.0" text-anchor="middle">1</text>
<text x="171.36" y="257.0" text-anchor="middle">1<tspan dx="-0.9">.</tspan><tspan dx="-0.9">5</tspan></text>
<text x="210.64" y="257.0" text-anchor="middle">2</text>
<text x="249.93" y="257.0" text-anchor="middle">2<tspan dx="-0.9">.</tspan><tspan dx="-0.9">5</tspan></text>
<text x="289.21" y="257.0" text-anchor="middle">3</text>
<text x="328.5" y="257.0" text-anchor="middle">3<tspan dx="-0.9">.</tspan><tspan dx="-0.9">5</tspan></text>
<text x="45.4" y="246.2" text-anchor="end">0</text>
<text x="46.8" y="223.3" text-anchor="end">20</text>
<text x="46.8" y="200.4" text-anchor="end">40</text>
<text x="46.8" y="177.5" text-anchor="end">60</text>
<text x="46.8" y="154.6" text-anchor="end">80</text>
<text x="48.2" y="131.7" text-anchor="end">100</text>
<text x="48.2" y="108.8" text-anchor="end">120</text>
<text x="48.2" y="85.9" text-anchor="end">140</text>
<text x="48.2" y="63" text-anchor="end">160</text>
<text x="48.2" y="40.1" text-anchor="end">180</text>
<text x="48.2" y="17.2" text-anchor="end">200</text>
<text x="304.8" y="273.9" font-size="12">×</text>
<text x="324.7" y="273.4" text-anchor="end">10</text>
<text x="325.65" y="267.6" font-size="9">4</text>
</g>
<text x="153.3" y="275.5" font-family="Liberation Serif, serif" font-size="13.2" fill="#000">Frequency [Hz]</text>
<text transform="translate(12.0 173.1) rotate(-90)" x="0" y="0" font-family="Liberation Serif, serif" font-size="13.2" fill="#000">Wavenumber [1/m]</text>
<text x="0.05" y="17.05" font-family="Liberation Serif, serif" font-weight="bold" font-size="19" fill="#000">(a)</text>
<rect x="403.5" y="14.5" width="275" height="229.4" fill="none" stroke="#262626" stroke-width="1"/>
<path d="M403.5 243.9v-3.3M403.5 14.5v3.3M442.79 243.9v-3.3M442.79 14.5v3.3M482.07 243.9v-3.3M482.07 14.5v3.3M521.36 243.9v-3.3M521.36 14.5v3.3M560.64 243.9v-3.3M560.64 14.5v3.3M599.93 243.9v-3.3M599.93 14.5v3.3M639.21 243.9v-3.3M639.21 14.5v3.3M678.5 243.9v-3.3M678.5 14.5v3.3M403.5 243.9h3.3M678.5 243.9h-3.3M403.5 211.13h3.3M678.5 211.13h-3.3M403.5 178.36h3.3M678.5 178.36h-3.3M403.5 145.59h3.3M678.5 145.59h-3.3M403.5 112.81h3.3M678.5 112.81h-3.3M403.5 80.04h3.3M678.5 80.04h-3.3M403.5 47.27h3.3M678.5 47.27h-3.3M403.5 14.5h3.3M678.5 14.5h-3.3" stroke="#111" stroke-width="1.15" fill="none"/>
<clipPath id="cpb"><rect x="399.5" y="10.5" width="283.0" height="237.4"/></clipPath>
<g clip-path="url(#cpb)" fill="none" stroke-width="1.1">
<polyline stroke="#000000" points="404.33,232.45 404.38,232.11 404.43,231.77 404.49,231.41 404.54,231.05 404.61,230.67 404.67,230.28 404.74,229.88 404.82,229.47 404.89,229.05 404.98,228.61 405.07,228.16 405.16,227.7 405.26,227.23 405.36,226.74 405.47,226.23 405.59,225.71 405.72,225.18 405.85,224.63 405.99,224.06 406.13,223.48 406.29,222.88 406.46,222.27 406.63,221.63 406.82,220.98 407.02,220.3 407.23,219.61 407.45,218.9 407.68,218.16 407.93,217.4 408.2,216.63 408.48,215.82 408.77,215 409.08,214.15 409.42,213.27 409.77,212.37 410.14,211.44 410.54,210.49 410.96,209.5 411.4,208.49 411.87,207.45 412.37,206.37 412.9,205.27 413.45,204.13 414.05,202.96 414.67,202 415.34,201.18 416.04,200.3 416.79,199.37 417.58,198.37 418.42,197.31 419.31,196.18 420.25,194.98 421.24,193.7 422.3,192.31 423.42,190.82 424.6,189.2 425.86,187.39 427.19,185.41 428.6,183.3 430.09,181.11 431.67,178.91 433.35,176.78 435.12,174.62 437.01,172.41 439,170.17 441.11,167.89 443.35,165.57 445.72,163.23 448.23,160.9 450.89,158.57 453.71,156.16 456.7,153.63 459.87,150.99 463.22,148.24 466.78,145.37 470.54,142.38 474.53,139.25 478.76,136.03 483.23,132.69 487.98,129.17 493,125.4 498.33,121.42 503.97,117.28 509.95,113.06 516.28,108.88 522.99,104.84 530.1,100.31 537.64,95.54 545.62,90.78 554.07,85.82 563.03,80.4 572.53,74.86 582.58,69.63 593.24,64.1 604.53,58.19 616.49,51.72 629.16,44.74 642.59,37.2 656.81,29.64"/>
<polyline stroke="#ff0000" points="404.33,214.68 404.38,214.62 404.43,214.56 404.49,214.49 404.54,214.42 404.61,214.34 404.67,214.26 404.74,214.17 404.82,214.08 404.89,213.98 404.98,213.88 405.07,213.77 405.16,213.65 405.26,213.53 405.36,213.4 405.47,213.26 405.59,213.12 405.72,212.96 405.85,212.8 405.99,212.62 406.13,212.44 406.29,212.24 406.46,212.04 406.63,211.82 406.82,211.59 407.02,211.34 407.23,211.08 407.45,210.81 407.68,210.52 407.93,210.21 408.2,209.88 408.48,209.54 408.77,209.17 409.08,208.78 409.42,208.37 409.77,207.93 410.14,207.47 410.54,206.98 410.96,206.47 411.4,205.92 411.87,205.35 412.37,204.74 412.9,204.1 413.45,203.41 414.05,202.69 414.67,201.92 415.34,201.1 416.04,200.22 416.79,199.29 417.58,198.29 418.42,197.23 419.31,196.1 420.25,194.9 421.24,193.61 422.3,192.23 423.42,190.74 424.6,189.11 425.86,187.3 427.19,185.33 428.6,183.22 430.09,181.03 431.67,178.83 433.35,176.7 435.12,174.53 437.01,172.33 439,170.09 441.11,167.81 443.35,165.49 445.72,163.15 448.23,160.82 450.89,158.48 453.71,156.08 456.7,153.55 459.87,150.91 463.22,148.15 466.78,145.28 470.54,142.29 474.53,139.17 478.76,135.94 483.23,132.61 487.98,129.09 493,125.32 498.33,121.34 503.97,117.2 509.95,112.98 516.28,108.8 522.99,104.76 530.1,100.23 537.64,95.46 545.62,90.7 554.07,85.74 563.03,80.31 572.53,74.78 582.58,69.55 593.24,64.02 604.53,58.1 616.49,51.64 629.16,44.66 642.59,37.11 656.81,28.92"/>
<path stroke="#ff0000" stroke-width="1.2" d="M401.33 214.68h6M404.33 211.68v6M401.38 214.62h6M404.38 211.62v6M401.43 214.56h6M404.43 211.56v6M401.49 214.49h6M404.49 211.49v6M401.54 214.42h6M404.54 211.42v6M401.61 214.34h6M404.61 211.34v6M401.67 214.26h6M404.67 211.26v6M401.74 214.17h6M404.74 211.17v6M401.82 214.08h6M404.82 211.08v6M401.89 213.98h6M404.89 210.98v6M401.98 213.88h6M404.98 210.88v6M402.07 213.77h6M405.07 210.77v6M402.16 213.65h6M405.16 210.65v6M402.26 213.53h6M405.26 210.53v6M402.36 213.4h6M405.36 210.4v6M402.47 213.26h6M405.47 210.26v6M402.59 213.12h6M405.59 210.12v6M402.72 212.96h6M405.72 209.96v6M402.85 212.8h6M405.85 209.8v6M402.99 212.62h6M405.99 209.62v6M403.13 212.44h6M406.13 209.44v6M403.29 212.24h6M406.29 209.24v6M403.46 212.04h6M406.46 209.04v6M403.63 211.82h6M406.63 208.82v6M403.82 211.59h6M406.82 208.59v6M404.02 211.34h6M407.02 208.34v6M404.23 211.08h6M407.23 208.08v6M404.45 210.81h6M407.45 207.81v6M404.68 210.52h6M407.68 207.52v6M404.93 210.21h6M407.93 207.21v6M405.2 209.88h6M408.2 206.88v6M405.48 209.54h6M408.48 206.54v6M405.77 209.17h6M408.77 206.17v6M406.08 208.78h6M409.08 205.78v6M406.42 208.37h6M409.42 205.37v6M406.77 207.93h6M409.77 204.93v6M407.14 207.47h6M410.14 204.47v6M407.54 206.98h6M410.54 203.98v6M407.96 206.47h6M410.96 203.47v6M408.4 205.92h6M411.4 202.92v6M408.87 205.35h6M411.87 202.35v6M409.37 204.74h6M412.37 201.74v6M409.9 204.1h6M412.9 201.1v6M410.45 203.41h6M413.45 200.41v6M411.05 202.69h6M414.05 199.69v6M411.67 201.92h6M414.67 198.92v6M412.34 201.1h6M415.34 198.1v6M413.04 200.22h6M416.04 197.22v6M413.79 199.29h6M416.79 196.29v6M414.58 198.29h6M417.58 195.29v6M415.42 197.23h6M418.42 194.23v6M416.31 196.1h6M419.31 193.1v6M417.25 194.9h6M420.25 191.9v6M418.24 193.61h6M421.24 190.61v6M419.3 192.23h6M422.3 189.23v6M420.42 190.74h6M423.42 187.74v6M421.6 189.11h6M424.6 186.11v6M422.86 187.3h6M425.86 184.3v6M424.19 185.33h6M427.19 182.33v6M425.6 183.22h6M428.6 180.22v6M427.09 181.03h6M430.09 178.03v6M428.67 178.83h6M431.67 175.83v6M430.35 176.7h6M433.35 173.7v6M432.12 174.53h6M435.12 171.53v6M434.01 172.33h6M437.01 169.33v6M436 170.09h6M439 167.09v6M438.11 167.81h6M441.11 164.81v6M440.35 165.49h6M443.35 162.49v6M442.72 163.15h6M445.72 160.15v6M445.23 160.82h6M448.23 157.82v6M447.89 158.48h6M450.89 155.48v6M450.71 156.08h6M453.71 153.08v6M453.7 153.55h6M456.7 150.55v6M456.87 150.91h6M459.87 147.91v6M460.22 148.15h6M463.22 145.15v6M463.78 145.28h6M466.78 142.28v6M467.54 142.29h6M470.54 139.29v6M471.53 139.17h6M474.53 136.17v6M475.76 135.94h6M478.76 132.94v6M480.23 132.61h6M483.23 129.61v6M484.98 129.09h6M487.98 126.09v6M490 125.32h6M493 122.32v6M495.33 121.34h6M498.33 118.34v6M500.97 117.2h6M503.97 114.2v6M506.95 112.98h6M509.95 109.98v6M513.28 108.8h6M516.28 105.8v6M519.99 104.76h6M522.99 101.76v6M527.1 100.23h6M530.1 97.23v6M534.64 95.46h6M537.64 92.46v6M542.62 90.7h6M545.62 87.7v6M551.07 85.74h6M554.07 82.74v6M560.03 80.31h6M563.03 77.31v6M569.53 74.78h6M572.53 71.78v6M579.58 69.55h6M582.58 66.55v6M590.24 64.02h6M593.24 61.02v6M601.53 58.1h6M604.53 55.1v6M613.49 51.64h6M616.49 48.64v6M626.16 44.66h6M629.16 41.66v6M639.59 37.11h6M642.59 34.11v6M653.81 28.92h6M656.81 25.92v6"/>
<polyline stroke="#0000ff" points="404.33,181.79 404.38,181.78 404.43,181.77 404.49,181.76 404.54,181.74 404.61,181.73 404.67,181.72 404.74,181.7 404.82,181.68 404.89,181.66 404.98,181.64 405.07,181.62 405.16,181.6 405.26,181.58 405.36,181.55 405.47,181.52 405.59,181.49 405.72,181.46 405.85,181.42 405.99,181.38 406.13,181.34 406.29,181.3 406.46,181.25 406.63,181.2 406.82,181.15 407.02,181.09 407.23,181.02 407.45,180.95 407.68,180.88 407.93,180.8 408.2,180.71 408.48,180.62 408.77,180.52 409.08,180.4 409.42,180.29 409.77,180.16 410.14,180.02 410.54,179.87 410.96,179.7 411.4,179.53 411.87,179.34 412.37,179.13 412.9,178.91 413.45,178.67 414.05,178.41 414.67,178.14 415.34,177.84 416.04,177.5 416.79,177.09 417.58,176.63 418.42,176.13 419.31,175.59 420.25,175.05 421.24,174.49 422.3,173.91 423.42,173.31 424.6,172.67 425.86,172 427.19,171.26 428.6,170.46 430.09,169.56 431.67,168.54 433.35,167.35 435.12,165.91 437.01,164.23 439,162.35 441.11,160.36 443.35,158.34 445.72,156.43 448.23,154.61 450.89,152.78 453.71,150.84 456.7,148.68 459.87,146.32 463.22,143.78 466.78,141.08 470.54,138.26 474.53,135.37 478.76,132.51 483.23,129.57 487.98,126.28 493,122.64 498.33,118.69 503.97,114.54 509.95,110.31 516.28,106.21 522.99,102.31 530.1,97.97 537.64,93.33 545.62,88.43 554.07,83.27 563.03,77.77 572.53,72.15 582.58,66.76 593.24,61.66 604.53,56.37 616.49,50.22 629.16,43.38 642.59,35.78 656.81,27.28"/>
<path stroke="#0000ff" stroke-width="1.2" d="M401.83 179.29l5 5M401.83 184.29l5 -5M401.88 179.28l5 5M401.88 184.28l5 -5M401.93 179.27l5 5M401.93 184.27l5 -5M401.99 179.26l5 5M401.99 184.26l5 -5M402.04 179.24l5 5M402.04 184.24l5 -5M402.11 179.23l5 5M402.11 184.23l5 -5M402.17 179.22l5 5M402.17 184.22l5 -5M402.24 179.2l5 5M402.24 184.2l5 -5M402.32 179.18l5 5M402.32 184.18l5 -5M402.39 179.16l5 5M402.39 184.16l5 -5M402.48 179.14l5 5M402.48 184.14l5 -5M402.57 179.12l5 5M402.57 184.12l5 -5M402.66 179.1l5 5M402.66 184.1l5 -5M402.76 179.08l5 5M402.76 184.08l5 -5M402.86 179.05l5 5M402.86 184.05l5 -5M402.97 179.02l5 5M402.97 184.02l5 -5M403.09 178.99l5 5M403.09 183.99l5 -5M403.22 178.96l5 5M403.22 183.96l5 -5M403.35 178.92l5 5M403.35 183.92l5 -5M403.49 178.88l5 5M403.49 183.88l5 -5M403.63 178.84l5 5M403.63 183.84l5 -5M403.79 178.8l5 5M403.79 183.8l5 -5M403.96 178.75l5 5M403.96 183.75l5 -5M404.13 178.7l5 5M404.13 183.7l5 -5M404.32 178.65l5 5M404.32 183.65l5 -5M404.52 178.59l5 5M404.52 183.59l5 -5M404.73 178.52l5 5M404.73 183.52l5 -5M404.95 178.45l5 5M404.95 183.45l5 -5M405.18 178.38l5 5M405.18 183.38l5 -5M405.43 178.3l5 5M405.43 183.3l5 -5M405.7 178.21l5 5M405.7 183.21l5 -5M405.98 178.12l5 5M405.98 183.12l5 -5M406.27 178.02l5 5M406.27 183.02l5 -5M406.58 177.9l5 5M406.58 182.9l5 -5M406.92 177.79l5 5M406.92 182.79l5 -5M407.27 177.66l5 5M407.27 182.66l5 -5M407.64 177.52l5 5M407.64 182.52l5 -5M408.04 177.37l5 5M408.04 182.37l5 -5M408.46 177.2l5 5M408.46 182.2l5 -5M408.9 177.03l5 5M408.9 182.03l5 -5M409.37 176.84l5 5M409.37 181.84l5 -5M409.87 176.63l5 5M409.87 181.63l5 -5M410.4 176.41l5 5M410.4 181.41l5 -5M410.95 176.17l5 5M410.95 181.17l5 -5M411.55 175.91l5 5M411.55 180.91l5 -5M412.17 175.64l5 5M412.17 180.64l5 -5M412.84 175.34l5 5M412.84 180.34l5 -5M413.54 175l5 5M413.54 180l5 -5M414.29 174.59l5 5M414.29 179.59l5 -5M415.08 174.13l5 5M415.08 179.13l5 -5M415.92 173.63l5 5M415.92 178.63l5 -5M416.81 173.09l5 5M416.81 178.09l5 -5M417.75 172.55l5 5M417.75 177.55l5 -5M418.74 171.99l5 5M418.74 176.99l5 -5M419.8 171.41l5 5M419.8 176.41l5 -5M420.92 170.81l5 5M420.92 175.81l5 -5M422.1 170.17l5 5M422.1 175.17l5 -5M423.36 169.5l5 5M423.36 174.5l5 -5M424.69 168.76l5 5M424.69 173.76l5 -5M426.1 167.96l5 5M426.1 172.96l5 -5M427.59 167.06l5 5M427.59 172.06l5 -5M429.17 166.04l5 5M429.17 171.04l5 -5M430.85 164.85l5 5M430.85 169.85l5 -5M432.62 163.41l5 5M432.62 168.41l5 -5M434.51 161.73l5 5M434.51 166.73l5 -5M436.5 159.85l5 5M436.5 164.85l5 -5M438.61 157.86l5 5M438.61 162.86l5 -5M440.85 155.84l5 5M440.85 160.84l5 -5M443.22 153.93l5 5M443.22 158.93l5 -5M445.73 152.11l5 5M445.73 157.11l5 -5M448.39 150.28l5 5M448.39 155.28l5 -5M451.21 148.34l5 5M451.21 153.34l5 -5M454.2 146.18l5 5M454.2 151.18l5 -5M457.37 143.82l5 5M457.37 148.82l5 -5M460.72 141.28l5 5M460.72 146.28l5 -5M464.28 138.58l5 5M464.28 143.58l5 -5M468.04 135.76l5 5M468.04 140.76l5 -5M472.03 132.87l5 5M472.03 137.87l5 -5M476.26 130.01l5 5M476.26 135.01l5 -5M480.73 127.07l5 5M480.73 132.07l5 -5M485.48 123.78l5 5M485.48 128.78l5 -5M490.5 120.14l5 5M490.5 125.14l5 -5M495.83 116.19l5 5M495.83 121.19l5 -5M501.47 112.04l5 5M501.47 117.04l5 -5M507.45 107.81l5 5M507.45 112.81l5 -5M513.78 103.71l5 5M513.78 108.71l5 -5M520.49 99.81l5 5M520.49 104.81l5 -5M527.6 95.47l5 5M527.6 100.47l5 -5M535.14 90.83l5 5M535.14 95.83l5 -5M543.12 85.93l5 5M543.12 90.93l5 -5M551.57 80.77l5 5M551.57 85.77l5 -5M560.53 75.27l5 5M560.53 80.27l5 -5M570.03 69.65l5 5M570.03 74.65l5 -5M580.08 64.26l5 5M580.08 69.26l5 -5M590.74 59.16l5 5M590.74 64.16l5 -5M602.03 53.87l5 5M602.03 58.87l5 -5M613.99 47.72l5 5M613.99 52.72l5 -5M626.66 40.88l5 5M626.66 45.88l5 -5M640.09 33.28l5 5M640.09 38.28l5 -5M654.31 24.78l5 5M654.31 29.78l5 -5"/>
<polyline stroke="#00ff00" points="404.33,152.94 404.38,152.94 404.43,152.94 404.49,152.94 404.54,152.93 404.61,152.93 404.67,152.93 404.74,152.93 404.82,152.92 404.89,152.92 404.98,152.92 405.07,152.91 405.16,152.91 405.26,152.9 405.36,152.9 405.47,152.89 405.59,152.89 405.72,152.88 405.85,152.87 405.99,152.87 406.13,152.86 406.29,152.85 406.46,152.84 406.63,152.82 406.82,152.81 407.02,152.8 407.23,152.78 407.45,152.76 407.68,152.74 407.93,152.72 408.2,152.7 408.48,152.67 408.77,152.64 409.08,152.61 409.42,152.57 409.77,152.53 410.14,152.49 410.54,152.44 410.96,152.39 411.4,152.33 411.87,152.26 412.37,152.19 412.9,152.12 413.45,152.03 414.05,151.94 414.67,151.84 415.34,151.73 416.04,151.61 416.79,151.48 417.58,151.34 418.42,151.19 419.31,151.03 420.25,150.86 421.24,150.66 422.3,150.42 423.42,150.13 424.6,149.78 425.86,149.39 427.19,148.94 428.6,148.44 430.09,147.9 431.67,147.27 433.35,146.54 435.12,145.71 437.01,144.77 439,143.75 441.11,142.65 443.35,141.4 445.72,140.01 448.23,138.51 450.89,137.01 453.71,135.47 456.7,133.88 459.87,132.21 463.22,130.43 466.78,128.52 470.54,126.51 474.53,124.36 478.76,122 483.23,119.33 487.98,116.35 493,113.15 498.33,109.79 503.97,106.22 509.95,102.54 516.28,98.67 522.99,94.61 530.1,90.61 537.64,86.46 545.62,81.92 554.07,77.24 563.03,72.69 572.53,67.91 582.58,62.5 593.24,57.39 604.53,52.19 616.49,46.47 629.16,40.02 642.59,32.78 656.81,24.5"/>
<path stroke="#00ff00" stroke-width="1.2" d="M401.08 152.94h6.5M404.33 149.69v6.5M401.99 150.6l4.68 4.68M401.99 155.28l4.68 -4.68M401.13 152.94h6.5M404.38 149.69v6.5M402.04 150.6l4.68 4.68M402.04 155.28l4.68 -4.68M401.18 152.94h6.5M404.43 149.69v6.5M402.09 150.6l4.68 4.68M402.09 155.28l4.68 -4.68M401.24 152.94h6.5M404.49 149.69v6.5M402.15 150.6l4.68 4.68M402.15 155.28l4.68 -4.68M401.29 152.93h6.5M404.54 149.68v6.5M402.2 150.59l4.68 4.68M402.2 155.27l4.68 -4.68M401.36 152.93h6.5M404.61 149.68v6.5M402.27 150.59l4.68 4.68M402.27 155.27l4.68 -4.68M401.42 152.93h6.5M404.67 149.68v6.5M402.33 150.59l4.68 4.68M402.33 155.27l4.68 -4.68M401.49 152.93h6.5M404.74 149.68v6.5M402.4 150.59l4.68 4.68M402.4 155.27l4.68 -4.68M401.57 152.92h6.5M404.82 149.67v6.5M402.48 150.58l4.68 4.68M402.48 155.26l4.68 -4.68M401.64 152.92h6.5M404.89 149.67v6.5M402.55 150.58l4.68 4.68M402.55 155.26l4.68 -4.68M401.73 152.92h6.5M404.98 149.67v6.5M402.64 150.58l4.68 4.68M402.64 155.26l4.68 -4.68M401.82 152.91h6.5M405.07 149.66v6.5M402.73 150.57l4.68 4.68M402.73 155.25l4.68 -4.68M401.91 152.91h6.5M405.16 149.66v6.5M402.82 150.57l4.68 4.68M402.82 155.25l4.68 -4.68M402.01 152.9h6.5M405.26 149.65v6.5M402.92 150.56l4.68 4.68M402.92 155.24l4.68 -4.68M402.11 152.9h6.5M405.36 149.65v6.5M403.02 150.56l4.68 4.68M403.02 155.24l4.68 -4.68M402.22 152.89h6.5M405.47 149.64v6.5M403.13 150.55l4.68 4.68M403.13 155.23l4.68 -4.68M402.34 152.89h6.5M405.59 149.64v6.5M403.25 150.55l4.68 4.68M403.25 155.23l4.68 -4.68M402.47 152.88h6.5M405.72 149.63v6.5M403.38 150.54l4.68 4.68M403.38 155.22l4.68 -4.68M402.6 152.87h6.5M405.85 149.62v6.5M403.51 150.53l4.68 4.68M403.51 155.21l4.68 -4.68M402.74 152.87h6.5M405.99 149.62v6.5M403.65 150.53l4.68 4.68M403.65 155.21l4.68 -4.68M402.88 152.86h6.5M406.13 149.61v6.5M403.79 150.52l4.68 4.68M403.79 155.2l4.68 -4.68M403.04 152.85h6.5M406.29 149.6v6.5M403.95 150.51l4.68 4.68M403.95 155.19l4.68 -4.68M403.21 152.84h6.5M406.46 149.59v6.5M404.12 150.5l4.68 4.68M404.12 155.18l4.68 -4.68M403.38 152.82h6.5M406.63 149.57v6.5M404.29 150.48l4.68 4.68M404.29 155.16l4.68 -4.68M403.57 152.81h6.5M406.82 149.56v6.5M404.48 150.47l4.68 4.68M404.48 155.15l4.68 -4.68M403.77 152.8h6.5M407.02 149.55v6.5M404.68 150.46l4.68 4.68M404.68 155.14l4.68 -4.68M403.98 152.78h6.5M407.23 149.53v6.5M404.89 150.44l4.68 4.68M404.89 155.12l4.68 -4.68M404.2 152.76h6.5M407.45 149.51v6.5M405.11 150.42l4.68 4.68M405.11 155.1l4.68 -4.68M404.43 152.74h6.5M407.68 149.49v6.5M405.34 150.4l4.68 4.68M405.34 155.08l4.68 -4.68M404.68 152.72h6.5M407.93 149.47v6.5M405.59 150.38l4.68 4.68M405.59 155.06l4.68 -4.68M404.95 152.7h6.5M408.2 149.45v6.5M405.86 150.36l4.68 4.68M405.86 155.04l4.68 -4.68M405.23 152.67h6.5M408.48 149.42v6.5M406.14 150.33l4.68 4.68M406.14 155.01l4.68 -4.68M405.52 152.64h6.5M408.77 149.39v6.5M406.43 150.3l4.68 4.68M406.43 154.98l4.68 -4.68M405.83 152.61h6.5M409.08 149.36v6.5M406.74 150.27l4.68 4.68M406.74 154.95l4.68 -4.68M406.17 152.57h6.5M409.42 149.32v6.5M407.08 150.23l4.68 4.68M407.08 154.91l4.68 -4.68M406.52 152.53h6.5M409.77 149.28v6.5M407.43 150.19l4.68 4.68M407.43 154.87l4.68 -4.68M406.89 152.49h6.5M410.14 149.24v6.5M407.8 150.15l4.68 4.68M407.8 154.83l4.68 -4.68M407.29 152.44h6.5M410.54 149.19v6.5M408.2 150.1l4.68 4.68M408.2 154.78l4.68 -4.68M407.71 152.39h6.5M410.96 149.14v6.5M408.62 150.05l4.68 4.68M408.62 154.73l4.68 -4.68M408.15 152.33h6.5M411.4 149.08v6.5M409.06 149.99l4.68 4.68M409.06 154.67l4.68 -4.68M408.62 152.26h6.5M411.87 149.01v6.5M409.53 149.92l4.68 4.68M409.53 154.6l4.68 -4.68M409.12 152.19h6.5M412.37 148.94v6.5M410.03 149.85l4.68 4.68M410.03 154.53l4.68 -4.68M409.65 152.12h6.5M412.9 148.87v6.5M410.56 149.78l4.68 4.68M410.56 154.46l4.68 -4.68M410.2 152.03h6.5M413.45 148.78v6.5M411.11 149.69l4.68 4.68M411.11 154.37l4.68 -4.68M410.8 151.94h6.5M414.05 148.69v6.5M411.71 149.6l4.68 4.68M411.71 154.28l4.68 -4.68M411.42 151.84h6.5M414.67 148.59v6.5M412.33 149.5l4.68 4.68M412.33 154.18l4.68 -4.68M412.09 151.73h6.5M415.34 148.48v6.5M413 149.39l4.68 4.68M413 154.07l4.68 -4.68M412.79 151.61h6.5M416.04 148.36v6.5M413.7 149.27l4.68 4.68M413.7 153.95l4.68 -4.68M413.54 151.48h6.5M416.79 148.23v6.5M414.45 149.14l4.68 4.68M414.45 153.82l4.68 -4.68M414.33 151.34h6.5M417.58 148.09v6.5M415.24 149l4.68 4.68M415.24 153.68l4.68 -4.68M415.17 151.19h6.5M418.42 147.94v6.5M416.08 148.85l4.68 4.68M416.08 153.53l4.68 -4.68M416.06 151.03h6.5M419.31 147.78v6.5M416.97 148.69l4.68 4.68M416.97 153.37l4.68 -4.68M417 150.86h6.5M420.25 147.61v6.5M417.91 148.52l4.68 4.68M417.91 153.2l4.68 -4.68M417.99 150.66h6.5M421.24 147.41v6.5M418.9 148.32l4.68 4.68M418.9 153l4.68 -4.68M419.05 150.42h6.5M422.3 147.17v6.5M419.96 148.08l4.68 4.68M419.96 152.76l4.68 -4.68M420.17 150.13h6.5M423.42 146.88v6.5M421.08 147.79l4.68 4.68M421.08 152.47l4.68 -4.68M421.35 149.78h6.5M424.6 146.53v6.5M422.26 147.44l4.68 4.68M422.26 152.12l4.68 -4.68M422.61 149.39h6.5M425.86 146.14v6.5M423.52 147.05l4.68 4.68M423.52 151.73l4.68 -4.68M423.94 148.94h6.5M427.19 145.69v6.5M424.85 146.6l4.68 4.68M424.85 151.28l4.68 -4.68M425.35 148.44h6.5M428.6 145.19v6.5M426.26 146.1l4.68 4.68M426.26 150.78l4.68 -4.68M426.84 147.9h6.5M430.09 144.65v6.5M427.75 145.56l4.68 4.68M427.75 150.24l4.68 -4.68M428.42 147.27h6.5M431.67 144.02v6.5M429.33 144.93l4.68 4.68M429.33 149.61l4.68 -4.68M430.1 146.54h6.5M433.35 143.29v6.5M431.01 144.2l4.68 4.68M431.01 148.88l4.68 -4.68M431.87 145.71h6.5M435.12 142.46v6.5M432.78 143.37l4.68 4.68M432.78 148.05l4.68 -4.68M433.76 144.77h6.5M437.01 141.52v6.5M434.67 142.43l4.68 4.68M434.67 147.11l4.68 -4.68M435.75 143.75h6.5M439 140.5v6.5M436.66 141.41l4.68 4.68M436.66 146.09l4.68 -4.68M437.86 142.65h6.5M441.11 139.4v6.5M438.77 140.31l4.68 4.68M438.77 144.99l4.68 -4.68M440.1 141.4h6.5M443.35 138.15v6.5M441.01 139.06l4.68 4.68M441.01 143.74l4.68 -4.68M442.47 140.01h6.5M445.72 136.76v6.5M443.38 137.67l4.68 4.68M443.38 142.35l4.68 -4.68M444.98 138.51h6.5M448.23 135.26v6.5M445.89 136.17l4.68 4.68M445.89 140.85l4.68 -4.68M447.64 137.01h6.5M450.89 133.76v6.5M448.55 134.67l4.68 4.68M448.55 139.35l4.68 -4.68M450.46 135.47h6.5M453.71 132.22v6.5M451.37 133.13l4.68 4.68M451.37 137.81l4.68 -4.68M453.45 133.88h6.5M456.7 130.63v6.5M454.36 131.54l4.68 4.68M454.36 136.22l4.68 -4.68M456.62 132.21h6.5M459.87 128.96v6.5M457.53 129.87l4.68 4.68M457.53 134.55l4.68 -4.68M459.97 130.43h6.5M463.22 127.18v6.5M460.88 128.09l4.68 4.68M460.88 132.77l4.68 -4.68M463.53 128.52h6.5M466.78 125.27v6.5M464.44 126.18l4.68 4.68M464.44 130.86l4.68 -4.68M467.29 126.51h6.5M470.54 123.26v6.5M468.2 124.17l4.68 4.68M468.2 128.85l4.68 -4.68M471.28 124.36h6.5M474.53 121.11v6.5M472.19 122.02l4.68 4.68M472.19 126.7l4.68 -4.68M475.51 122h6.5M478.76 118.75v6.5M476.42 119.66l4.68 4.68M476.42 124.34l4.68 -4.68M479.98 119.33h6.5M483.23 116.08v6.5M480.89 116.99l4.68 4.68M480.89 121.67l4.68 -4.68M484.73 116.35h6.5M487.98 113.1v6.5M485.64 114.01l4.68 4.68M485.64 118.69l4.68 -4.68M489.75 113.15h6.5M493 109.9v6.5M490.66 110.81l4.68 4.68M490.66 115.49l4.68 -4.68M495.08 109.79h6.5M498.33 106.54v6.5M495.99 107.45l4.68 4.68M495.99 112.13l4.68 -4.68M500.72 106.22h6.5M503.97 102.97v6.5M501.63 103.88l4.68 4.68M501.63 108.56l4.68 -4.68M506.7 102.54h6.5M509.95 99.29v6.5M507.61 100.2l4.68 4.68M507.61 104.88l4.68 -4.68M513.03 98.67h6.5M516.28 95.42v6.5M513.94 96.33l4.68 4.68M513.94 101.01l4.68 -4.68M519.74 94.61h6.5M522.99 91.36v6.5M520.65 92.27l4.68 4.68M520.65 96.95l4.68 -4.68M526.85 90.61h6.5M530.1 87.36v6.5M527.76 88.27l4.68 4.68M527.76 92.95l4.68 -4.68M534.39 86.46h6.5M537.64 83.21v6.5M535.3 84.12l4.68 4.68M535.3 88.8l4.68 -4.68M542.37 81.92h6.5M545.62 78.67v6.5M543.28 79.58l4.68 4.68M543.28 84.26l4.68 -4.68M550.82 77.24h6.5M554.07 73.99v6.5M551.73 74.9l4.68 4.68M551.73 79.58l4.68 -4.68M559.78 72.69h6.5M563.03 69.44v6.5M560.69 70.35l4.68 4.68M560.69 75.03l4.68 -4.68M569.28 67.91h6.5M572.53 64.66v6.5M570.19 65.57l4.68 4.68M570.19 70.25l4.68 -4.68M579.33 62.5h6.5M582.58 59.25v6.5M580.24 60.16l4.68 4.68M580.24 64.84l4.68 -4.68M589.99 57.39h6.5M593.24 54.14v6.5M590.9 55.05l4.68 4.68M590.9 59.73l4.68 -4.68M601.28 52.19h6.5M604.53 48.94v6.5M602.19 49.85l4.68 4.68M602.19 54.53l4.68 -4.68M613.24 46.47h6.5M616.49 43.22v6.5M614.15 44.13l4.68 4.68M614.15 48.81l4.68 -4.68M625.91 40.02h6.5M629.16 36.77v6.5M626.82 37.68l4.68 4.68M626.82 42.36l4.68 -4.68M639.34 32.78h6.5M642.59 29.53v6.5M640.25 30.44l4.68 4.68M640.25 35.12l4.68 -4.68M653.56 24.5h6.5M656.81 21.25v6.5M654.47 22.16l4.68 4.68M654.47 26.84l4.68 -4.68"/>
<polyline stroke="#ff00ff" points="404.33,126.37 404.38,126.37 404.43,126.36 404.49,126.36 404.54,126.36 404.61,126.35 404.67,126.35 404.74,126.34 404.82,126.34 404.89,126.34 404.98,126.33 405.07,126.33 405.16,126.32 405.26,126.31 405.36,126.31 405.47,126.3 405.59,126.29 405.72,126.28 405.85,126.28 405.99,126.27 406.13,126.26 406.29,126.25 406.46,126.24 406.63,126.22 406.82,126.21 407.02,126.2 407.23,126.18 407.45,126.17 407.68,126.15 407.93,126.13 408.2,126.11 408.48,126.09 408.77,126.07 409.08,126.04 409.42,126.01 409.77,125.99 410.14,125.96 410.54,125.92 410.96,125.89 411.4,125.85 411.87,125.81 412.37,125.76 412.9,125.71 413.45,125.66 414.05,125.6 414.67,125.54 415.34,125.47 416.04,125.4 416.79,125.33 417.58,125.24 418.42,125.15 419.31,125.06 420.25,124.96 421.24,124.84 422.3,124.72 423.42,124.59 424.6,124.43 425.86,124.26 427.19,124.06 428.6,123.83 430.09,123.56 431.67,123.21 433.35,122.79 435.12,122.29 437.01,121.73 439,121.1 441.11,120.42 443.35,119.66 445.72,118.78 448.23,117.84 450.89,116.9 453.71,115.95 456.7,114.98 459.87,113.94 463.22,112.78 466.78,111.44 470.54,109.92 474.53,108.21 478.76,106.3 483.23,104.14 487.98,101.66 493,99 498.33,96.26 503.97,93.36 509.95,90.31 516.28,87.12 522.99,83.82 530.1,80.35 537.64,76.65 545.62,72.6 554.07,67.83 563.03,62.82 572.53,58.19 582.58,53.49 593.24,48.47 604.53,43.17 616.49,37.57 629.16,31.32 642.59,24.57 656.81,17.78"/>
<path stroke="#ff00ff" stroke-width="1.2" d="M401.48 126.37a2.85 2.85 0 1 0 5.7 0a2.85 2.85 0 1 0 -5.7 0M401.53 126.37a2.85 2.85 0 1 0 5.7 0a2.85 2.85 0 1 0 -5.7 0M401.58 126.36a2.85 2.85 0 1 0 5.7 0a2.85 2.85 0 1 0 -5.7 0M401.64 126.36a2.85 2.85 0 1 0 5.7 0a2.85 2.85 0 1 0 -5.7 0M401.69 126.36a2.85 2.85 0 1 0 5.7 0a2.85 2.85 0 1 0 -5.7 0M401.76 126.35a2.85 2.85 0 1 0 5.7 0a2.85 2.85 0 1 0 -5.7 0M401.82 126.35a2.85 2.85 0 1 0 5.7 0a2.85 2.85 0 1 0 -5.7 0M401.89 126.34a2.85 2.85 0 1 0 5.7 0a2.85 2.85 0 1 0 -5.7 0M401.97 126.34a2.85 2.85 0 1 0 5.7 0a2.85 2.85 0 1 0 -5.7 0M402.04 126.34a2.85 2.85 0 1 0 5.7 0a2.85 2.85 0 1 0 -5.7 0M402.13 126.33a2.85 2.85 0 1 0 5.7 0a2.85 2.85 0 1 0 -5.7 0M402.22 126.33a2.85 2.85 0 1 0 5.7 0a2.85 2.85 0 1 0 -5.7 0M402.31 126.32a2.85 2.85 0 1 0 5.7 0a2.85 2.85 0 1 0 -5.7 0M402.41 126.31a2.85 2.85 0 1 0 5.7 0a2.85 2.85 0 1 0 -5.7 0M402.51 126.31a2.85 2.85 0 1 0 5.7 0a2.85 2.85 0 1 0 -5.7 0M402.62 126.3a2.85 2.85 0 1 0 5.7 0a2.85 2.85 0 1 0 -5.7 0M402.74 126.29a2.85 2.85 0 1 0 5.7 0a2.85 2.85 0 1 0 -5.7 0M402.87 126.28a2.85 2.85 0 1 0 5.7 0a2.85 2.85 0 1 0 -5.7 0M403 126.28a2.85 2.85 0 1 0 5.7 0a2.85 2.85 0 1 0 -5.7 0M403.14 126.27a2.85 2.85 0 1 0 5.7 0a2.85 2.85 0 1 0 -5.7 0M403.28 126.26a2.85 2.85 0 1 0 5.7 0a2.85 2.85 0 1 0 -5.7 0M403.44 126.25a2.85 2.85 0 1 0 5.7 0a2.85 2.85 0 1 0 -5.7 0M403.61 126.24a2.85 2.85 0 1 0 5.7 0a2.85 2.85 0 1 0 -5.7 0M403.78 126.22a2.85 2.85 0 1 0 5.7 0a2.85 2.85 0 1 0 -5.7 0M403.97 126.21a2.85 2.85 0 1 0 5.7 0a2.85 2.85 0 1 0 -5.7 0M404.17 126.2a2.85 2.85 0 1 0 5.7 0a2.85 2.85 0 1 0 -5.7 0M404.38 126.18a2.85 2.85 0 1 0 5.7 0a2.85 2.85 0 1 0 -5.7 0M404.6 126.17a2.85 2.85 0 1 0 5.7 0a2.85 2.85 0 1 0 -5.7 0M404.83 126.15a2.85 2.85 0 1 0 5.7 0a2.85 2.85 0 1 0 -5.7 0M405.08 126.13a2.85 2.85 0 1 0 5.7 0a2.85 2.85 0 1 0 -5.7 0M405.35 126.11a2.85 2.85 0 1 0 5.7 0a2.85 2.85 0 1 0 -5.7 0M405.63 126.09a2.85 2.85 0 1 0 5.7 0a2.85 2.85 0 1 0 -5.7 0M405.92 126.07a2.85 2.85 0 1 0 5.7 0a2.85 2.85 0 1 0 -5.7 0M406.23 126.04a2.85 2.85 0 1 0 5.7 0a2.85 2.85 0 1 0 -5.7 0M406.57 126.01a2.85 2.85 0 1 0 5.7 0a2.85 2.85 0 1 0 -5.7 0M406.92 125.99a2.85 2.85 0 1 0 5.7 0a2.85 2.85 0 1 0 -5.7 0M407.29 125.96a2.85 2.85 0 1 0 5.7 0a2.85 2.85 0 1 0 -5.7 0M407.69 125.92a2.85 2.85 0 1 0 5.7 0a2.85 2.85 0 1 0 -5.7 0M408.11 125.89a2.85 2.85 0 1 0 5.7 0a2.85 2.85 0 1 0 -5.7 0M408.55 125.85a2.85 2.85 0 1 0 5.7 0a2.85 2.85 0 1 0 -5.7 0M409.02 125.81a2.85 2.85 0 1 0 5.7 0a2.85 2.85 0 1 0 -5.7 0M409.52 125.76a2.85 2.85 0 1 0 5.7 0a2.85 2.85 0 1 0 -5.7 0M410.05 125.71a2.85 2.85 0 1 0 5.7 0a2.85 2.85 0 1 0 -5.7 0M410.6 125.66a2.85 2.85 0 1 0 5.7 0a2.85 2.85 0 1 0 -5.7 0M411.2 125.6a2.85 2.85 0 1 0 5.7 0a2.85 2.85 0 1 0 -5.7 0M411.82 125.54a2.85 2.85 0 1 0 5.7 0a2.85 2.85 0 1 0 -5.7 0M412.49 125.47a2.85 2.85 0 1 0 5.7 0a2.85 2.85 0 1 0 -5.7 0M413.19 125.4a2.85 2.85 0 1 0 5.7 0a2.85 2.85 0 1 0 -5.7 0M413.94 125.33a2.85 2.85 0 1 0 5.7 0a2.85 2.85 0 1 0 -5.7 0M414.73 125.24a2.85 2.85 0 1 0 5.7 0a2.85 2.85 0 1 0 -5.7 0M415.57 125.15a2.85 2.85 0 1 0 5.7 0a2.85 2.85 0 1 0 -5.7 0M416.46 125.06a2.85 2.85 0 1 0 5.7 0a2.85 2.85 0 1 0 -5.7 0M417.4 124.96a2.85 2.85 0 1 0 5.7 0a2.85 2.85 0 1 0 -5.7 0M418.39 124.84a2.85 2.85 0 1 0 5.7 0a2.85 2.85 0 1 0 -5.7 0M419.45 124.72a2.85 2.85 0 1 0 5.7 0a2.85 2.85 0 1 0 -5.7 0M420.57 124.59a2.85 2.85 0 1 0 5.7 0a2.85 2.85 0 1 0 -5.7 0M421.75 124.43a2.85 2.85 0 1 0 5.7 0a2.85 2.85 0 1 0 -5.7 0M423.01 124.26a2.85 2.85 0 1 0 5.7 0a2.85 2.85 0 1 0 -5.7 0M424.34 124.06a2.85 2.85 0 1 0 5.7 0a2.85 2.85 0 1 0 -5.7 0M425.75 123.83a2.85 2.85 0 1 0 5.7 0a2.85 2.85 0 1 0 -5.7 0M427.24 123.56a2.85 2.85 0 1 0 5.7 0a2.85 2.85 0 1 0 -5.7 0M428.82 123.21a2.85 2.85 0 1 0 5.7 0a2.85 2.85 0 1 0 -5.7 0M430.5 122.79a2.85 2.85 0 1 0 5.7 0a2.85 2.85 0 1 0 -5.7 0M432.27 122.29a2.85 2.85 0 1 0 5.7 0a2.85 2.85 0 1 0 -5.7 0M434.16 121.73a2.85 2.85 0 1 0 5.7 0a2.85 2.85 0 1 0 -5.7 0M436.15 121.1a2.85 2.85 0 1 0 5.7 0a2.85 2.85 0 1 0 -5.7 0M438.26 120.42a2.85 2.85 0 1 0 5.7 0a2.85 2.85 0 1 0 -5.7 0M440.5 119.66a2.85 2.85 0 1 0 5.7 0a2.85 2.85 0 1 0 -5.7 0M442.87 118.78a2.85 2.85 0 1 0 5.7 0a2.85 2.85 0 1 0 -5.7 0M445.38 117.84a2.85 2.85 0 1 0 5.7 0a2.85 2.85 0 1 0 -5.7 0M448.04 116.9a2.85 2.85 0 1 0 5.7 0a2.85 2.85 0 1 0 -5.7 0M450.86 115.95a2.85 2.85 0 1 0 5.7 0a2.85 2.85 0 1 0 -5.7 0M453.85 114.98a2.85 2.85 0 1 0 5.7 0a2.85 2.85 0 1 0 -5.7 0M457.02 113.94a2.85 2.85 0 1 0 5.7 0a2.85 2.85 0 1 0 -5.7 0M460.37 112.78a2.85 2.85 0 1 0 5.7 0a2.85 2.85 0 1 0 -5.7 0M463.93 111.44a2.85 2.85 0 1 0 5.7 0a2.85 2.85 0 1 0 -5.7 0M467.69 109.92a2.85 2.85 0 1 0 5.7 0a2.85 2.85 0 1 0 -5.7 0M471.68 108.21a2.85 2.85 0 1 0 5.7 0a2.85 2.85 0 1 0 -5.7 0M475.91 106.3a2.85 2.85 0 1 0 5.7 0a2.85 2.85 0 1 0 -5.7 0M480.38 104.14a2.85 2.85 0 1 0 5.7 0a2.85 2.85 0 1 0 -5.7 0M485.13 101.66a2.85 2.85 0 1 0 5.7 0a2.85 2.85 0 1 0 -5.7 0M490.15 99a2.85 2.85 0 1 0 5.7 0a2.85 2.85 0 1 0 -5.7 0M495.48 96.26a2.85 2.85 0 1 0 5.7 0a2.85 2.85 0 1 0 -5.7 0M501.12 93.36a2.85 2.85 0 1 0 5.7 0a2.85 2.85 0 1 0 -5.7 0M507.1 90.31a2.85 2.85 0 1 0 5.7 0a2.85 2.85 0 1 0 -5.7 0M513.43 87.12a2.85 2.85 0 1 0 5.7 0a2.85 2.85 0 1 0 -5.7 0M520.14 83.82a2.85 2.85 0 1 0 5.7 0a2.85 2.85 0 1 0 -5.7 0M527.25 80.35a2.85 2.85 0 1 0 5.7 0a2.85 2.85 0 1 0 -5.7 0M534.79 76.65a2.85 2.85 0 1 0 5.7 0a2.85 2.85 0 1 0 -5.7 0M542.77 72.6a2.85 2.85 0 1 0 5.7 0a2.85 2.85 0 1 0 -5.7 0M551.22 67.83a2.85 2.85 0 1 0 5.7 0a2.85 2.85 0 1 0 -5.7 0M560.18 62.82a2.85 2.85 0 1 0 5.7 0a2.85 2.85 0 1 0 -5.7 0M569.68 58.19a2.85 2.85 0 1 0 5.7 0a2.85 2.85 0 1 0 -5.7 0M579.73 53.49a2.85 2.85 0 1 0 5.7 0a2.85 2.85 0 1 0 -5.7 0M590.39 48.47a2.85 2.85 0 1 0 5.7 0a2.85 2.85 0 1 0 -5.7 0M601.68 43.17a2.85 2.85 0 1 0 5.7 0a2.85 2.85 0 1 0 -5.7 0M613.64 37.57a2.85 2.85 0 1 0 5.7 0a2.85 2.85 0 1 0 -5.7 0M626.31 31.32a2.85 2.85 0 1 0 5.7 0a2.85 2.85 0 1 0 -5.7 0M639.74 24.57a2.85 2.85 0 1 0 5.7 0a2.85 2.85 0 1 0 -5.7 0M653.96 17.78a2.85 2.85 0 1 0 5.7 0a2.85 2.85 0 1 0 -5.7 0"/>
</g>
<g font-family="Liberation Sans, sans-serif" font-size="11" fill="#161616">
<text x="403.5" y="258.1" text-anchor="middle">0</text>
<text x="442.79" y="258.1" text-anchor="middle">0<tspan dx="-0.9">.</tspan><tspan dx="-0.9">5</tspan></text>
<text x="482.07" y="258.1" text-anchor="middle">1</text>
<text x="521.36" y="258.1" text-anchor="middle">1<tspan dx="-0.9">.</tspan><tspan dx="-0.9">5</tspan></text>
<text x="560.64" y="258.1" text-anchor="middle">2</text>
<text x="599.93" y="258.1" text-anchor="middle">2<tspan dx="-0.9">.</tspan><tspan dx="-0.9">5</tspan></text>
<text x="639.21" y="258.1" text-anchor="middle">3</text>
<text x="678.5" y="258.1" text-anchor="middle">3<tspan dx="-0.9">.</tspan><tspan dx="-0.9">5</tspan></text>
<text x="398.8" y="247.6" text-anchor="end">0</text>
<text x="400.2" y="214.83" text-anchor="end">20</text>
<text x="400.2" y="182.06" text-anchor="end">40</text>
<text x="400.2" y="149.29" text-anchor="end">60</text>
<text x="400.2" y="116.51" text-anchor="end">80</text>
<text x="401.6" y="83.74" text-anchor="end">100</text>
<text x="401.6" y="50.97" text-anchor="end">120</text>
<text x="401.6" y="18.2" text-anchor="end">140</text>
<text x="653.1" y="275.1" font-size="12">×</text>
<text x="674.2" y="274.6" text-anchor="end">10</text>
<text x="675.45" y="269" font-size="9">4</text>
</g>
<text x="503.6" y="278.8" font-family="Liberation Serif, serif" font-size="13.2" fill="#000">Frequency [Hz]</text>
<text transform="translate(369.2 168.9) rotate(-90)" x="0" y="0" font-family="Liberation Serif, serif" font-size="13.2" fill="#000">Wavenumber [1/m]</text>
<text x="351.15" y="16.85" font-family="Liberation Serif, serif" font-weight="bold" font-size="19" fill="#000">(b)</text>
<rect x="48.0" y="310.5" width="280.3" height="233.7" fill="none" stroke="#262626" stroke-width="1"/>
<path d="M48 544.2v-3.3M48 310.5v3.3M88.04 544.2v-3.3M88.04 310.5v3.3M128.09 544.2v-3.3M128.09 310.5v3.3M168.13 544.2v-3.3M168.13 310.5v3.3M208.17 544.2v-3.3M208.17 310.5v3.3M248.21 544.2v-3.3M248.21 310.5v3.3M288.26 544.2v-3.3M288.26 310.5v3.3M328.3 544.2v-3.3M328.3 310.5v3.3M48 544.2h3.3M328.3 544.2h-3.3M48 518.23h3.3M328.3 518.23h-3.3M48 492.27h3.3M328.3 492.27h-3.3M48 466.3h3.3M328.3 466.3h-3.3M48 440.33h3.3M328.3 440.33h-3.3M48 414.37h3.3M328.3 414.37h-3.3M48 388.4h3.3M328.3 388.4h-3.3M48 362.43h3.3M328.3 362.43h-3.3M48 336.47h3.3M328.3 336.47h-3.3M48 310.5h3.3M328.3 310.5h-3.3" stroke="#111" stroke-width="1.15" fill="none"/>
<clipPath id="cpc"><rect x="44.0" y="306.5" width="288.3" height="241.70000000000005"/></clipPath>
<g clip-path="url(#cpc)" fill="none" stroke-width="1.1">
<polyline stroke="#000000" points="48.85,543.51 48.9,543.47 48.95,543.43 49.01,543.38 49.07,543.33 49.13,543.28 49.2,543.23 49.27,543.17 49.34,543.11 49.42,543.04 49.51,542.97 49.6,542.9 49.69,542.82 49.79,542.74 49.9,542.65 50.01,542.56 50.13,542.46 50.26,542.36 50.39,542.25 50.53,542.14 50.69,542.01 50.84,541.88 51.01,541.74 51.19,541.6 51.38,541.44 51.58,541.28 51.8,541.11 52.02,540.92 52.26,540.73 52.52,540.52 52.79,540.3 53.07,540.07 53.37,539.82 53.69,539.56 54.03,539.29 54.39,539 54.77,538.69 55.17,538.36 55.6,538.01 56.05,537.64 56.53,537.25 57.04,536.84 57.58,536.4 58.15,535.94 58.75,535.44 59.39,534.92 60.07,534.37 60.78,533.79 61.55,533.17 62.35,532.51 63.21,531.82 64.11,531.08 65.07,530.3 66.08,529.47 67.16,528.59 68.3,527.67 69.51,526.68 70.79,525.64 72.14,524.54 73.58,523.37 75.1,522.13 76.72,520.81 78.42,519.42 80.23,517.95 82.15,516.38 84.18,514.73 86.34,512.98 88.62,511.12 91.03,509.15 93.6,507.06 96.31,504.85 99.18,502.51 102.23,500.03 105.45,497.4 108.87,494.62 112.5,491.67 116.33,488.54 120.4,485.23 124.71,481.72 129.27,478.01 134.11,474.07 139.23,469.9 144.66,465.47 150.41,460.79 156.5,455.83 162.96,450.57 169.8,445 177.04,439.1 184.72,432.84 192.86,426.22 201.48,419.2 210.61,411.76 220.28,403.88 230.53,395.53 241.4,386.68 252.9,377.31 265.09,367.38 278.01,356.86 291.7,345.71 306.2,333.9"/>
<polyline stroke="#ff0000" points="48.85,541.41 48.9,541.4 48.95,541.39 49.01,541.38 49.07,541.36 49.13,541.35 49.2,541.33 49.27,541.31 49.34,541.29 49.42,541.26 49.51,541.23 49.6,541.2 49.69,541.17 49.79,541.13 49.9,541.09 50.01,541.04 50.13,540.99 50.26,540.93 50.39,540.87 50.53,540.8 50.69,540.72 50.84,540.64 51.01,540.55 51.19,540.45 51.38,540.34 51.58,540.22 51.8,540.09 52.02,539.95 52.26,539.8 52.52,539.64 52.79,539.46 53.07,539.27 53.37,539.06 53.69,538.83 54.03,538.59 54.39,538.34 54.77,538.06 55.17,537.76 55.6,537.45 56.05,537.11 56.53,536.75 57.04,536.36 57.58,535.95 58.15,535.51 58.75,535.04 59.39,534.54 60.07,534.01 60.78,533.44 61.55,532.84 62.35,532.2 63.21,531.52 64.11,530.8 65.07,530.04 66.08,529.23 67.16,528.36 68.3,527.45 69.51,526.47 70.79,525.44 72.14,524.35 73.58,523.19 75.1,521.96 76.72,520.66 78.42,519.27 80.23,517.81 82.15,516.25 84.18,514.61 86.34,512.86 88.62,511.01 91.03,509.05 93.6,506.97 96.31,504.76 99.18,502.43 102.23,499.95 105.45,497.33 108.87,494.55 112.5,491.6 116.33,488.48 120.4,485.17 124.71,481.67 129.27,477.95 134.11,474.02 139.23,469.85 144.66,465.43 150.41,460.75 156.5,455.79 162.96,450.53 169.8,444.96 177.04,439.06 184.72,432.81 192.86,426.19 201.48,419.17 210.61,411.73 220.28,403.85 230.53,395.5 241.4,386.66 252.9,377.29 265.09,367.36 278.01,356.84 291.7,345.7 306.2,333.89"/>
<path stroke="#ff0000" stroke-width="1.2" d="M45.85 541.41h6M48.85 538.41v6M45.9 541.4h6M48.9 538.4v6M45.95 541.39h6M48.95 538.39v6M46.01 541.38h6M49.01 538.38v6M46.07 541.36h6M49.07 538.36v6M46.13 541.35h6M49.13 538.35v6M46.2 541.33h6M49.2 538.33v6M46.27 541.31h6M49.27 538.31v6M46.34 541.29h6M49.34 538.29v6M46.42 541.26h6M49.42 538.26v6M46.51 541.23h6M49.51 538.23v6M46.6 541.2h6M49.6 538.2v6M46.69 541.17h6M49.69 538.17v6M46.79 541.13h6M49.79 538.13v6M46.9 541.09h6M49.9 538.09v6M47.01 541.04h6M50.01 538.04v6M47.13 540.99h6M50.13 537.99v6M47.26 540.93h6M50.26 537.93v6M47.39 540.87h6M50.39 537.87v6M47.53 540.8h6M50.53 537.8v6M47.69 540.72h6M50.69 537.72v6M47.84 540.64h6M50.84 537.64v6M48.01 540.55h6M51.01 537.55v6M48.19 540.45h6M51.19 537.45v6M48.38 540.34h6M51.38 537.34v6M48.58 540.22h6M51.58 537.22v6M48.8 540.09h6M51.8 537.09v6M49.02 539.95h6M52.02 536.95v6M49.26 539.8h6M52.26 536.8v6M49.52 539.64h6M52.52 536.64v6M49.79 539.46h6M52.79 536.46v6M50.07 539.27h6M53.07 536.27v6M50.37 539.06h6M53.37 536.06v6M50.69 538.83h6M53.69 535.83v6M51.03 538.59h6M54.03 535.59v6M51.39 538.34h6M54.39 535.34v6M51.77 538.06h6M54.77 535.06v6M52.17 537.76h6M55.17 534.76v6M52.6 537.45h6M55.6 534.45v6M53.05 537.11h6M56.05 534.11v6M53.53 536.75h6M56.53 533.75v6M54.04 536.36h6M57.04 533.36v6M54.58 535.95h6M57.58 532.95v6M55.15 535.51h6M58.15 532.51v6M55.75 535.04h6M58.75 532.04v6M56.39 534.54h6M59.39 531.54v6M57.07 534.01h6M60.07 531.01v6M57.78 533.44h6M60.78 530.44v6M58.55 532.84h6M61.55 529.84v6M59.35 532.2h6M62.35 529.2v6M60.21 531.52h6M63.21 528.52v6M61.11 530.8h6M64.11 527.8v6M62.07 530.04h6M65.07 527.04v6M63.08 529.23h6M66.08 526.23v6M64.16 528.36h6M67.16 525.36v6M65.3 527.45h6M68.3 524.45v6M66.51 526.47h6M69.51 523.47v6M67.79 525.44h6M70.79 522.44v6M69.14 524.35h6M72.14 521.35v6M70.58 523.19h6M73.58 520.19v6M72.1 521.96h6M75.1 518.96v6M73.72 520.66h6M76.72 517.66v6M75.42 519.27h6M78.42 516.27v6M77.23 517.81h6M80.23 514.81v6M79.15 516.25h6M82.15 513.25v6M81.18 514.61h6M84.18 511.61v6M83.34 512.86h6M86.34 509.86v6M85.62 511.01h6M88.62 508.01v6M88.03 509.05h6M91.03 506.05v6M90.6 506.97h6M93.6 503.97v6M93.31 504.76h6M96.31 501.76v6M96.18 502.43h6M99.18 499.43v6M99.23 499.95h6M102.23 496.95v6M102.45 497.33h6M105.45 494.33v6M105.87 494.55h6M108.87 491.55v6M109.5 491.6h6M112.5 488.6v6M113.33 488.48h6M116.33 485.48v6M117.4 485.17h6M120.4 482.17v6M121.71 481.67h6M124.71 478.67v6M126.27 477.95h6M129.27 474.95v6M131.11 474.02h6M134.11 471.02v6M136.23 469.85h6M139.23 466.85v6M141.66 465.43h6M144.66 462.43v6M147.41 460.75h6M150.41 457.75v6M153.5 455.79h6M156.5 452.79v6M159.96 450.53h6M162.96 447.53v6M166.8 444.96h6M169.8 441.96v6M174.04 439.06h6M177.04 436.06v6M181.72 432.81h6M184.72 429.81v6M189.86 426.19h6M192.86 423.19v6M198.48 419.17h6M201.48 416.17v6M207.61 411.73h6M210.61 408.73v6M217.28 403.85h6M220.28 400.85v6M227.53 395.5h6M230.53 392.5v6M238.4 386.66h6M241.4 383.66v6M249.9 377.29h6M252.9 374.29v6M262.09 367.36h6M265.09 364.36v6M275.01 356.84h6M278.01 353.84v6M288.7 345.7h6M291.7 342.7v6M303.2 333.89h6M306.2 330.89v6"/>
<polyline stroke="#0000ff" points="48.85,529.9 48.9,529.9 48.95,529.9 49.01,529.89 49.07,529.89 49.13,529.89 49.2,529.89 49.27,529.88 49.34,529.88 49.42,529.87 49.51,529.87 49.6,529.86 49.69,529.85 49.79,529.84 49.9,529.83 50.01,529.82 50.13,529.81 50.26,529.8 50.39,529.79 50.53,529.77 50.69,529.75 50.84,529.73 51.01,529.71 51.19,529.68 51.38,529.65 51.58,529.62 51.8,529.59 52.02,529.55 52.26,529.5 52.52,529.45 52.79,529.4 53.07,529.33 53.37,529.26 53.69,529.18 54.03,529.1 54.39,529 54.77,528.89 55.17,528.77 55.6,528.63 56.05,528.48 56.53,528.32 57.04,528.13 57.58,527.93 58.15,527.7 58.75,527.45 59.39,527.17 60.07,526.86 60.78,526.53 61.55,526.15 62.35,525.74 63.21,525.3 64.11,524.81 65.07,524.27 66.08,523.68 67.16,523.05 68.3,522.35 69.51,521.6 70.79,520.78 72.14,519.9 73.58,518.94 75.1,517.91 76.72,516.8 78.42,515.6 80.23,514.31 82.15,512.93 84.18,511.45 86.34,509.86 88.62,508.17 91.03,506.35 93.6,504.41 96.31,502.34 99.18,500.13 102.23,497.78 105.45,495.27 108.87,492.6 112.5,489.76 116.33,486.74 120.4,483.53 124.71,480.11 129.27,476.48 134.11,472.63 139.23,468.54 144.66,464.19 150.41,459.58 156.5,454.68 162.96,449.49 169.8,443.98 177.04,438.13 184.72,431.93 192.86,425.36 201.48,418.38 210.61,410.99 220.28,403.15 230.53,394.85 241.4,386.04 252.9,376.7 265.09,366.81 278.01,356.32 291.7,345.2 306.2,333.42"/>
<path stroke="#0000ff" stroke-width="1.2" d="M46.35 527.4l5 5M46.35 532.4l5 -5M46.4 527.4l5 5M46.4 532.4l5 -5M46.45 527.4l5 5M46.45 532.4l5 -5M46.51 527.39l5 5M46.51 532.39l5 -5M46.57 527.39l5 5M46.57 532.39l5 -5M46.63 527.39l5 5M46.63 532.39l5 -5M46.7 527.39l5 5M46.7 532.39l5 -5M46.77 527.38l5 5M46.77 532.38l5 -5M46.84 527.38l5 5M46.84 532.38l5 -5M46.92 527.37l5 5M46.92 532.37l5 -5M47.01 527.37l5 5M47.01 532.37l5 -5M47.1 527.36l5 5M47.1 532.36l5 -5M47.19 527.35l5 5M47.19 532.35l5 -5M47.29 527.34l5 5M47.29 532.34l5 -5M47.4 527.33l5 5M47.4 532.33l5 -5M47.51 527.32l5 5M47.51 532.32l5 -5M47.63 527.31l5 5M47.63 532.31l5 -5M47.76 527.3l5 5M47.76 532.3l5 -5M47.89 527.29l5 5M47.89 532.29l5 -5M48.03 527.27l5 5M48.03 532.27l5 -5M48.19 527.25l5 5M48.19 532.25l5 -5M48.34 527.23l5 5M48.34 532.23l5 -5M48.51 527.21l5 5M48.51 532.21l5 -5M48.69 527.18l5 5M48.69 532.18l5 -5M48.88 527.15l5 5M48.88 532.15l5 -5M49.08 527.12l5 5M49.08 532.12l5 -5M49.3 527.09l5 5M49.3 532.09l5 -5M49.52 527.05l5 5M49.52 532.05l5 -5M49.76 527l5 5M49.76 532l5 -5M50.02 526.95l5 5M50.02 531.95l5 -5M50.29 526.9l5 5M50.29 531.9l5 -5M50.57 526.83l5 5M50.57 531.83l5 -5M50.87 526.76l5 5M50.87 531.76l5 -5M51.19 526.68l5 5M51.19 531.68l5 -5M51.53 526.6l5 5M51.53 531.6l5 -5M51.89 526.5l5 5M51.89 531.5l5 -5M52.27 526.39l5 5M52.27 531.39l5 -5M52.67 526.27l5 5M52.67 531.27l5 -5M53.1 526.13l5 5M53.1 531.13l5 -5M53.55 525.98l5 5M53.55 530.98l5 -5M54.03 525.82l5 5M54.03 530.82l5 -5M54.54 525.63l5 5M54.54 530.63l5 -5M55.08 525.43l5 5M55.08 530.43l5 -5M55.65 525.2l5 5M55.65 530.2l5 -5M56.25 524.95l5 5M56.25 529.95l5 -5M56.89 524.67l5 5M56.89 529.67l5 -5M57.57 524.36l5 5M57.57 529.36l5 -5M58.28 524.03l5 5M58.28 529.03l5 -5M59.05 523.65l5 5M59.05 528.65l5 -5M59.85 523.24l5 5M59.85 528.24l5 -5M60.71 522.8l5 5M60.71 527.8l5 -5M61.61 522.31l5 5M61.61 527.31l5 -5M62.57 521.77l5 5M62.57 526.77l5 -5M63.58 521.18l5 5M63.58 526.18l5 -5M64.66 520.55l5 5M64.66 525.55l5 -5M65.8 519.85l5 5M65.8 524.85l5 -5M67.01 519.1l5 5M67.01 524.1l5 -5M68.29 518.28l5 5M68.29 523.28l5 -5M69.64 517.4l5 5M69.64 522.4l5 -5M71.08 516.44l5 5M71.08 521.44l5 -5M72.6 515.41l5 5M72.6 520.41l5 -5M74.22 514.3l5 5M74.22 519.3l5 -5M75.92 513.1l5 5M75.92 518.1l5 -5M77.73 511.81l5 5M77.73 516.81l5 -5M79.65 510.43l5 5M79.65 515.43l5 -5M81.68 508.95l5 5M81.68 513.95l5 -5M83.84 507.36l5 5M83.84 512.36l5 -5M86.12 505.67l5 5M86.12 510.67l5 -5M88.53 503.85l5 5M88.53 508.85l5 -5M91.1 501.91l5 5M91.1 506.91l5 -5M93.81 499.84l5 5M93.81 504.84l5 -5M96.68 497.63l5 5M96.68 502.63l5 -5M99.73 495.28l5 5M99.73 500.28l5 -5M102.95 492.77l5 5M102.95 497.77l5 -5M106.37 490.1l5 5M106.37 495.1l5 -5M110 487.26l5 5M110 492.26l5 -5M113.83 484.24l5 5M113.83 489.24l5 -5M117.9 481.03l5 5M117.9 486.03l5 -5M122.21 477.61l5 5M122.21 482.61l5 -5M126.77 473.98l5 5M126.77 478.98l5 -5M131.61 470.13l5 5M131.61 475.13l5 -5M136.73 466.04l5 5M136.73 471.04l5 -5M142.16 461.69l5 5M142.16 466.69l5 -5M147.91 457.08l5 5M147.91 462.08l5 -5M154 452.18l5 5M154 457.18l5 -5M160.46 446.99l5 5M160.46 451.99l5 -5M167.3 441.48l5 5M167.3 446.48l5 -5M174.54 435.63l5 5M174.54 440.63l5 -5M182.22 429.43l5 5M182.22 434.43l5 -5M190.36 422.86l5 5M190.36 427.86l5 -5M198.98 415.88l5 5M198.98 420.88l5 -5M208.11 408.49l5 5M208.11 413.49l5 -5M217.78 400.65l5 5M217.78 405.65l5 -5M228.03 392.35l5 5M228.03 397.35l5 -5M238.9 383.54l5 5M238.9 388.54l5 -5M250.4 374.2l5 5M250.4 379.2l5 -5M262.59 364.31l5 5M262.59 369.31l5 -5M275.51 353.82l5 5M275.51 358.82l5 -5M289.2 342.7l5 5M289.2 347.7l5 -5M303.7 330.92l5 5M303.7 335.92l5 -5"/>
<polyline stroke="#00ff00" points="48.85,516.93 48.9,516.93 48.95,516.92 49.01,516.92 49.07,516.92 49.13,516.92 49.2,516.92 49.27,516.92 49.34,516.91 49.42,516.91 49.51,516.91 49.6,516.9 49.69,516.9 49.79,516.9 49.9,516.89 50.01,516.89 50.13,516.88 50.26,516.87 50.39,516.87 50.53,516.86 50.69,516.85 50.84,516.84 51.01,516.82 51.19,516.81 51.38,516.8 51.58,516.78 51.8,516.76 52.02,516.74 52.26,516.71 52.52,516.69 52.79,516.66 53.07,516.62 53.37,516.59 53.69,516.54 54.03,516.5 54.39,516.44 54.77,516.38 55.17,516.32 55.6,516.24 56.05,516.16 56.53,516.06 57.04,515.96 57.58,515.84 58.15,515.71 58.75,515.56 59.39,515.4 60.07,515.22 60.78,515.01 61.55,514.79 62.35,514.53 63.21,514.25 64.11,513.94 65.07,513.6 66.08,513.21 67.16,512.78 68.3,512.31 69.51,511.79 70.79,511.22 72.14,510.58 73.58,509.89 75.1,509.12 76.72,508.28 78.42,507.36 80.23,506.35 82.15,505.25 84.18,504.05 86.34,502.75 88.62,501.33 91.03,499.79 93.6,498.13 96.31,496.33 99.18,494.39 102.23,492.29 105.45,490.04 108.87,487.62 112.5,485.02 116.33,482.22 120.4,479.23 124.71,476.03 129.27,472.61 134.11,468.96 139.23,465.05 144.66,460.89 150.41,456.45 156.5,451.72 162.96,446.68 169.8,441.32 177.04,435.62 184.72,429.55 192.86,423.11 201.48,416.26 210.61,408.98 220.28,401.25 230.53,393.05 241.4,384.34 252.9,375.1 265.09,365.29 278.01,354.89 291.7,343.85 306.2,332.14"/>
<path stroke="#00ff00" stroke-width="1.2" d="M45.6 516.93h6.5M48.85 513.68v6.5M46.51 514.59l4.68 4.68M46.51 519.27l4.68 -4.68M45.65 516.93h6.5M48.9 513.68v6.5M46.56 514.59l4.68 4.68M46.56 519.27l4.68 -4.68M45.7 516.92h6.5M48.95 513.67v6.5M46.61 514.58l4.68 4.68M46.61 519.26l4.68 -4.68M45.76 516.92h6.5M49.01 513.67v6.5M46.67 514.58l4.68 4.68M46.67 519.26l4.68 -4.68M45.82 516.92h6.5M49.07 513.67v6.5M46.73 514.58l4.68 4.68M46.73 519.26l4.68 -4.68M45.88 516.92h6.5M49.13 513.67v6.5M46.79 514.58l4.68 4.68M46.79 519.26l4.68 -4.68M45.95 516.92h6.5M49.2 513.67v6.5M46.86 514.58l4.68 4.68M46.86 519.26l4.68 -4.68M46.02 516.92h6.5M49.27 513.67v6.5M46.93 514.58l4.68 4.68M46.93 519.26l4.68 -4.68M46.09 516.91h6.5M49.34 513.66v6.5M47 514.57l4.68 4.68M47 519.25l4.68 -4.68M46.17 516.91h6.5M49.42 513.66v6.5M47.08 514.57l4.68 4.68M47.08 519.25l4.68 -4.68M46.26 516.91h6.5M49.51 513.66v6.5M47.17 514.57l4.68 4.68M47.17 519.25l4.68 -4.68M46.35 516.9h6.5M49.6 513.65v6.5M47.26 514.56l4.68 4.68M47.26 519.24l4.68 -4.68M46.44 516.9h6.5M49.69 513.65v6.5M47.35 514.56l4.68 4.68M47.35 519.24l4.68 -4.68M46.54 516.9h6.5M49.79 513.65v6.5M47.45 514.56l4.68 4.68M47.45 519.24l4.68 -4.68M46.65 516.89h6.5M49.9 513.64v6.5M47.56 514.55l4.68 4.68M47.56 519.23l4.68 -4.68M46.76 516.89h6.5M50.01 513.64v6.5M47.67 514.55l4.68 4.68M47.67 519.23l4.68 -4.68M46.88 516.88h6.5M50.13 513.63v6.5M47.79 514.54l4.68 4.68M47.79 519.22l4.68 -4.68M47.01 516.87h6.5M50.26 513.62v6.5M47.92 514.53l4.68 4.68M47.92 519.21l4.68 -4.68M47.14 516.87h6.5M50.39 513.62v6.5M48.05 514.53l4.68 4.68M48.05 519.21l4.68 -4.68M47.28 516.86h6.5M50.53 513.61v6.5M48.19 514.52l4.68 4.68M48.19 519.2l4.68 -4.68M47.44 516.85h6.5M50.69 513.6v6.5M48.35 514.51l4.68 4.68M48.35 519.19l4.68 -4.68M47.59 516.84h6.5M50.84 513.59v6.5M48.5 514.5l4.68 4.68M48.5 519.18l4.68 -4.68M47.76 516.82h6.5M51.01 513.57v6.5M48.67 514.48l4.68 4.68M48.67 519.16l4.68 -4.68M47.94 516.81h6.5M51.19 513.56v6.5M48.85 514.47l4.68 4.68M48.85 519.15l4.68 -4.68M48.13 516.8h6.5M51.38 513.55v6.5M49.04 514.46l4.68 4.68M49.04 519.14l4.68 -4.68M48.33 516.78h6.5M51.58 513.53v6.5M49.24 514.44l4.68 4.68M49.24 519.12l4.68 -4.68M48.55 516.76h6.5M51.8 513.51v6.5M49.46 514.42l4.68 4.68M49.46 519.1l4.68 -4.68M48.77 516.74h6.5M52.02 513.49v6.5M49.68 514.4l4.68 4.68M49.68 519.08l4.68 -4.68M49.01 516.71h6.5M52.26 513.46v6.5M49.92 514.37l4.68 4.68M49.92 519.05l4.68 -4.68M49.27 516.69h6.5M52.52 513.44v6.5M50.18 514.35l4.68 4.68M50.18 519.03l4.68 -4.68M49.54 516.66h6.5M52.79 513.41v6.5M50.45 514.32l4.68 4.68M50.45 519l4.68 -4.68M49.82 516.62h6.5M53.07 513.37v6.5M50.73 514.28l4.68 4.68M50.73 518.96l4.68 -4.68M50.12 516.59h6.5M53.37 513.34v6.5M51.03 514.25l4.68 4.68M51.03 518.93l4.68 -4.68M50.44 516.54h6.5M53.69 513.29v6.5M51.35 514.2l4.68 4.68M51.35 518.88l4.68 -4.68M50.78 516.5h6.5M54.03 513.25v6.5M51.69 514.16l4.68 4.68M51.69 518.84l4.68 -4.68M51.14 516.44h6.5M54.39 513.19v6.5M52.05 514.1l4.68 4.68M52.05 518.78l4.68 -4.68M51.52 516.38h6.5M54.77 513.13v6.5M52.43 514.04l4.68 4.68M52.43 518.72l4.68 -4.68M51.92 516.32h6.5M55.17 513.07v6.5M52.83 513.98l4.68 4.68M52.83 518.66l4.68 -4.68M52.35 516.24h6.5M55.6 512.99v6.5M53.26 513.9l4.68 4.68M53.26 518.58l4.68 -4.68M52.8 516.16h6.5M56.05 512.91v6.5M53.71 513.82l4.68 4.68M53.71 518.5l4.68 -4.68M53.28 516.06h6.5M56.53 512.81v6.5M54.19 513.72l4.68 4.68M54.19 518.4l4.68 -4.68M53.79 515.96h6.5M57.04 512.71v6.5M54.7 513.62l4.68 4.68M54.7 518.3l4.68 -4.68M54.33 515.84h6.5M57.58 512.59v6.5M55.24 513.5l4.68 4.68M55.24 518.18l4.68 -4.68M54.9 515.71h6.5M58.15 512.46v6.5M55.81 513.37l4.68 4.68M55.81 518.05l4.68 -4.68M55.5 515.56h6.5M58.75 512.31v6.5M56.41 513.22l4.68 4.68M56.41 517.9l4.68 -4.68M56.14 515.4h6.5M59.39 512.15v6.5M57.05 513.06l4.68 4.68M57.05 517.74l4.68 -4.68M56.82 515.22h6.5M60.07 511.97v6.5M57.73 512.88l4.68 4.68M57.73 517.56l4.68 -4.68M57.53 515.01h6.5M60.78 511.76v6.5M58.44 512.67l4.68 4.68M58.44 517.35l4.68 -4.68M58.3 514.79h6.5M61.55 511.54v6.5M59.21 512.45l4.68 4.68M59.21 517.13l4.68 -4.68M59.1 514.53h6.5M62.35 511.28v6.5M60.01 512.19l4.68 4.68M60.01 516.87l4.68 -4.68M59.96 514.25h6.5M63.21 511v6.5M60.87 511.91l4.68 4.68M60.87 516.59l4.68 -4.68M60.86 513.94h6.5M64.11 510.69v6.5M61.77 511.6l4.68 4.68M61.77 516.28l4.68 -4.68M61.82 513.6h6.5M65.07 510.35v6.5M62.73 511.26l4.68 4.68M62.73 515.94l4.68 -4.68M62.83 513.21h6.5M66.08 509.96v6.5M63.74 510.87l4.68 4.68M63.74 515.55l4.68 -4.68M63.91 512.78h6.5M67.16 509.53v6.5M64.82 510.44l4.68 4.68M64.82 515.12l4.68 -4.68M65.05 512.31h6.5M68.3 509.06v6.5M65.96 509.97l4.68 4.68M65.96 514.65l4.68 -4.68M66.26 511.79h6.5M69.51 508.54v6.5M67.17 509.45l4.68 4.68M67.17 514.13l4.68 -4.68M67.54 511.22h6.5M70.79 507.97v6.5M68.45 508.88l4.68 4.68M68.45 513.56l4.68 -4.68M68.89 510.58h6.5M72.14 507.33v6.5M69.8 508.24l4.68 4.68M69.8 512.92l4.68 -4.68M70.33 509.89h6.5M73.58 506.64v6.5M71.24 507.55l4.68 4.68M71.24 512.23l4.68 -4.68M71.85 509.12h6.5M75.1 505.87v6.5M72.76 506.78l4.68 4.68M72.76 511.46l4.68 -4.68M73.47 508.28h6.5M76.72 505.03v6.5M74.38 505.94l4.68 4.68M74.38 510.62l4.68 -4.68M75.17 507.36h6.5M78.42 504.11v6.5M76.08 505.02l4.68 4.68M76.08 509.7l4.68 -4.68M76.98 506.35h6.5M80.23 503.1v6.5M77.89 504.01l4.68 4.68M77.89 508.69l4.68 -4.68M78.9 505.25h6.5M82.15 502v6.5M79.81 502.91l4.68 4.68M79.81 507.59l4.68 -4.68M80.93 504.05h6.5M84.18 500.8v6.5M81.84 501.71l4.68 4.68M81.84 506.39l4.68 -4.68M83.09 502.75h6.5M86.34 499.5v6.5M84 500.41l4.68 4.68M84 505.09l4.68 -4.68M85.37 501.33h6.5M88.62 498.08v6.5M86.28 498.99l4.68 4.68M86.28 503.67l4.68 -4.68M87.78 499.79h6.5M91.03 496.54v6.5M88.69 497.45l4.68 4.68M88.69 502.13l4.68 -4.68M90.35 498.13h6.5M93.6 494.88v6.5M91.26 495.79l4.68 4.68M91.26 500.47l4.68 -4.68M93.06 496.33h6.5M96.31 493.08v6.5M93.97 493.99l4.68 4.68M93.97 498.67l4.68 -4.68M95.93 494.39h6.5M99.18 491.14v6.5M96.84 492.05l4.68 4.68M96.84 496.73l4.68 -4.68M98.98 492.29h6.5M102.23 489.04v6.5M99.89 489.95l4.68 4.68M99.89 494.63l4.68 -4.68M102.2 490.04h6.5M105.45 486.79v6.5M103.11 487.7l4.68 4.68M103.11 492.38l4.68 -4.68M105.62 487.62h6.5M108.87 484.37v6.5M106.53 485.28l4.68 4.68M106.53 489.96l4.68 -4.68M109.25 485.02h6.5M112.5 481.77v6.5M110.16 482.68l4.68 4.68M110.16 487.36l4.68 -4.68M113.08 482.22h6.5M116.33 478.97v6.5M113.99 479.88l4.68 4.68M113.99 484.56l4.68 -4.68M117.15 479.23h6.5M120.4 475.98v6.5M118.06 476.89l4.68 4.68M118.06 481.57l4.68 -4.68M121.46 476.03h6.5M124.71 472.78v6.5M122.37 473.69l4.68 4.68M122.37 478.37l4.68 -4.68M126.02 472.61h6.5M129.27 469.36v6.5M126.93 470.27l4.68 4.68M126.93 474.95l4.68 -4.68M130.86 468.96h6.5M134.11 465.71v6.5M131.77 466.62l4.68 4.68M131.77 471.3l4.68 -4.68M135.98 465.05h6.5M139.23 461.8v6.5M136.89 462.71l4.68 4.68M136.89 467.39l4.68 -4.68M141.41 460.89h6.5M144.66 457.64v6.5M142.32 458.55l4.68 4.68M142.32 463.23l4.68 -4.68M147.16 456.45h6.5M150.41 453.2v6.5M148.07 454.11l4.68 4.68M148.07 458.79l4.68 -4.68M153.25 451.72h6.5M156.5 448.47v6.5M154.16 449.38l4.68 4.68M154.16 454.06l4.68 -4.68M159.71 446.68h6.5M162.96 443.43v6.5M160.62 444.34l4.68 4.68M160.62 449.02l4.68 -4.68M166.55 441.32h6.5M169.8 438.07v6.5M167.46 438.98l4.68 4.68M167.46 443.66l4.68 -4.68M173.79 435.62h6.5M177.04 432.37v6.5M174.7 433.28l4.68 4.68M174.7 437.96l4.68 -4.68M181.47 429.55h6.5M184.72 426.3v6.5M182.38 427.21l4.68 4.68M182.38 431.89l4.68 -4.68M189.61 423.11h6.5M192.86 419.86v6.5M190.52 420.77l4.68 4.68M190.52 425.45l4.68 -4.68M198.23 416.26h6.5M201.48 413.01v6.5M199.14 413.92l4.68 4.68M199.14 418.6l4.68 -4.68M207.36 408.98h6.5M210.61 405.73v6.5M208.27 406.64l4.68 4.68M208.27 411.32l4.68 -4.68M217.03 401.25h6.5M220.28 398v6.5M217.94 398.91l4.68 4.68M217.94 403.59l4.68 -4.68M227.28 393.05h6.5M230.53 389.8v6.5M228.19 390.71l4.68 4.68M228.19 395.39l4.68 -4.68M238.15 384.34h6.5M241.4 381.09v6.5M239.06 382l4.68 4.68M239.06 386.68l4.68 -4.68M249.65 375.1h6.5M252.9 371.85v6.5M250.56 372.76l4.68 4.68M250.56 377.44l4.68 -4.68M261.84 365.29h6.5M265.09 362.04v6.5M262.75 362.95l4.68 4.68M262.75 367.63l4.68 -4.68M274.76 354.89h6.5M278.01 351.64v6.5M275.67 352.55l4.68 4.68M275.67 357.23l4.68 -4.68M288.45 343.85h6.5M291.7 340.6v6.5M289.36 341.51l4.68 4.68M289.36 346.19l4.68 -4.68M302.95 332.14h6.5M306.2 328.89v6.5M303.86 329.8l4.68 4.68M303.86 334.48l4.68 -4.68"/>
<polyline stroke="#ff00ff" points="48.85,503.32 48.9,503.32 48.95,503.32 49.01,503.32 49.07,503.32 49.13,503.32 49.2,503.32 49.27,503.32 49.34,503.31 49.42,503.31 49.51,503.31 49.6,503.31 49.69,503.31 49.79,503.3 49.9,503.3 50.01,503.3 50.13,503.29 50.26,503.29 50.39,503.28 50.53,503.28 50.69,503.27 50.84,503.26 51.01,503.25 51.19,503.25 51.38,503.24 51.58,503.22 51.8,503.21 52.02,503.2 52.26,503.18 52.52,503.16 52.79,503.14 53.07,503.12 53.37,503.09 53.69,503.07 54.03,503.03 54.39,503 54.77,502.96 55.17,502.91 55.6,502.86 56.05,502.81 56.53,502.74 57.04,502.67 57.58,502.59 58.15,502.5 58.75,502.4 59.39,502.29 60.07,502.16 60.78,502.02 61.55,501.87 62.35,501.69 63.21,501.49 64.11,501.27 65.07,501.03 66.08,500.76 67.16,500.45 68.3,500.11 69.51,499.73 70.79,499.31 72.14,498.84 73.58,498.32 75.1,497.75 76.72,497.11 78.42,496.4 80.23,495.62 82.15,494.76 84.18,493.81 86.34,492.77 88.62,491.62 91.03,490.36 93.6,488.98 96.31,487.47 99.18,485.82 102.23,484.02 105.45,482.07 108.87,479.95 112.5,477.64 116.33,475.15 120.4,472.45 124.71,469.54 129.27,466.41 134.11,463.03 139.23,459.4 144.66,455.5 150.41,451.31 156.5,446.83 162.96,442.04 169.8,436.91 177.04,431.43 184.72,425.58 192.86,419.34 201.48,412.68 210.61,405.6 220.28,398.05 230.53,390.01 241.4,381.47 252.9,372.38 265.09,362.72 278.01,352.45 291.7,341.55 306.2,329.97"/>
<path stroke="#ff00ff" stroke-width="1.2" d="M46 503.32a2.85 2.85 0 1 0 5.7 0a2.85 2.85 0 1 0 -5.7 0M46.05 503.32a2.85 2.85 0 1 0 5.7 0a2.85 2.85 0 1 0 -5.7 0M46.1 503.32a2.85 2.85 0 1 0 5.7 0a2.85 2.85 0 1 0 -5.7 0M46.16 503.32a2.85 2.85 0 1 0 5.7 0a2.85 2.85 0 1 0 -5.7 0M46.22 503.32a2.85 2.85 0 1 0 5.7 0a2.85 2.85 0 1 0 -5.7 0M46.28 503.32a2.85 2.85 0 1 0 5.7 0a2.85 2.85 0 1 0 -5.7 0M46.35 503.32a2.85 2.85 0 1 0 5.7 0a2.85 2.85 0 1 0 -5.7 0M46.42 503.32a2.85 2.85 0 1 0 5.7 0a2.85 2.85 0 1 0 -5.7 0M46.49 503.31a2.85 2.85 0 1 0 5.7 0a2.85 2.85 0 1 0 -5.7 0M46.57 503.31a2.85 2.85 0 1 0 5.7 0a2.85 2.85 0 1 0 -5.7 0M46.66 503.31a2.85 2.85 0 1 0 5.7 0a2.85 2.85 0 1 0 -5.7 0M46.75 503.31a2.85 2.85 0 1 0 5.7 0a2.85 2.85 0 1 0 -5.7 0M46.84 503.31a2.85 2.85 0 1 0 5.7 0a2.85 2.85 0 1 0 -5.7 0M46.94 503.3a2.85 2.85 0 1 0 5.7 0a2.85 2.85 0 1 0 -5.7 0M47.05 503.3a2.85 2.85 0 1 0 5.7 0a2.85 2.85 0 1 0 -5.7 0M47.16 503.3a2.85 2.85 0 1 0 5.7 0a2.85 2.85 0 1 0 -5.7 0M47.28 503.29a2.85 2.85 0 1 0 5.7 0a2.85 2.85 0 1 0 -5.7 0M47.41 503.29a2.85 2.85 0 1 0 5.7 0a2.85 2.85 0 1 0 -5.7 0M47.54 503.28a2.85 2.85 0 1 0 5.7 0a2.85 2.85 0 1 0 -5.7 0M47.68 503.28a2.85 2.85 0 1 0 5.7 0a2.85 2.85 0 1 0 -5.7 0M47.84 503.27a2.85 2.85 0 1 0 5.7 0a2.85 2.85 0 1 0 -5.7 0M47.99 503.26a2.85 2.85 0 1 0 5.7 0a2.85 2.85 0 1 0 -5.7 0M48.16 503.25a2.85 2.85 0 1 0 5.7 0a2.85 2.85 0 1 0 -5.7 0M48.34 503.25a2.85 2.85 0 1 0 5.7 0a2.85 2.85 0 1 0 -5.7 0M48.53 503.24a2.85 2.85 0 1 0 5.7 0a2.85 2.85 0 1 0 -5.7 0M48.73 503.22a2.85 2.85 0 1 0 5.7 0a2.85 2.85 0 1 0 -5.7 0M48.95 503.21a2.85 2.85 0 1 0 5.7 0a2.85 2.85 0 1 0 -5.7 0M49.17 503.2a2.85 2.85 0 1 0 5.7 0a2.85 2.85 0 1 0 -5.7 0M49.41 503.18a2.85 2.85 0 1 0 5.7 0a2.85 2.85 0 1 0 -5.7 0M49.67 503.16a2.85 2.85 0 1 0 5.7 0a2.85 2.85 0 1 0 -5.7 0M49.94 503.14a2.85 2.85 0 1 0 5.7 0a2.85 2.85 0 1 0 -5.7 0M50.22 503.12a2.85 2.85 0 1 0 5.7 0a2.85 2.85 0 1 0 -5.7 0M50.52 503.09a2.85 2.85 0 1 0 5.7 0a2.85 2.85 0 1 0 -5.7 0M50.84 503.07a2.85 2.85 0 1 0 5.7 0a2.85 2.85 0 1 0 -5.7 0M51.18 503.03a2.85 2.85 0 1 0 5.7 0a2.85 2.85 0 1 0 -5.7 0M51.54 503a2.85 2.85 0 1 0 5.7 0a2.85 2.85 0 1 0 -5.7 0M51.92 502.96a2.85 2.85 0 1 0 5.7 0a2.85 2.85 0 1 0 -5.7 0M52.32 502.91a2.85 2.85 0 1 0 5.7 0a2.85 2.85 0 1 0 -5.7 0M52.75 502.86a2.85 2.85 0 1 0 5.7 0a2.85 2.85 0 1 0 -5.7 0M53.2 502.81a2.85 2.85 0 1 0 5.7 0a2.85 2.85 0 1 0 -5.7 0M53.68 502.74a2.85 2.85 0 1 0 5.7 0a2.85 2.85 0 1 0 -5.7 0M54.19 502.67a2.85 2.85 0 1 0 5.7 0a2.85 2.85 0 1 0 -5.7 0M54.73 502.59a2.85 2.85 0 1 0 5.7 0a2.85 2.85 0 1 0 -5.7 0M55.3 502.5a2.85 2.85 0 1 0 5.7 0a2.85 2.85 0 1 0 -5.7 0M55.9 502.4a2.85 2.85 0 1 0 5.7 0a2.85 2.85 0 1 0 -5.7 0M56.54 502.29a2.85 2.85 0 1 0 5.7 0a2.85 2.85 0 1 0 -5.7 0M57.22 502.16a2.85 2.85 0 1 0 5.7 0a2.85 2.85 0 1 0 -5.7 0M57.93 502.02a2.85 2.85 0 1 0 5.7 0a2.85 2.85 0 1 0 -5.7 0M58.7 501.87a2.85 2.85 0 1 0 5.7 0a2.85 2.85 0 1 0 -5.7 0M59.5 501.69a2.85 2.85 0 1 0 5.7 0a2.85 2.85 0 1 0 -5.7 0M60.36 501.49a2.85 2.85 0 1 0 5.7 0a2.85 2.85 0 1 0 -5.7 0M61.26 501.27a2.85 2.85 0 1 0 5.7 0a2.85 2.85 0 1 0 -5.7 0M62.22 501.03a2.85 2.85 0 1 0 5.7 0a2.85 2.85 0 1 0 -5.7 0M63.23 500.76a2.85 2.85 0 1 0 5.7 0a2.85 2.85 0 1 0 -5.7 0M64.31 500.45a2.85 2.85 0 1 0 5.7 0a2.85 2.85 0 1 0 -5.7 0M65.45 500.11a2.85 2.85 0 1 0 5.7 0a2.85 2.85 0 1 0 -5.7 0M66.66 499.73a2.85 2.85 0 1 0 5.7 0a2.85 2.85 0 1 0 -5.7 0M67.94 499.31a2.85 2.85 0 1 0 5.7 0a2.85 2.85 0 1 0 -5.7 0M69.29 498.84a2.85 2.85 0 1 0 5.7 0a2.85 2.85 0 1 0 -5.7 0M70.73 498.32a2.85 2.85 0 1 0 5.7 0a2.85 2.85 0 1 0 -5.7 0M72.25 497.75a2.85 2.85 0 1 0 5.7 0a2.85 2.85 0 1 0 -5.7 0M73.87 497.11a2.85 2.85 0 1 0 5.7 0a2.85 2.85 0 1 0 -5.7 0M75.57 496.4a2.85 2.85 0 1 0 5.7 0a2.85 2.85 0 1 0 -5.7 0M77.38 495.62a2.85 2.85 0 1 0 5.7 0a2.85 2.85 0 1 0 -5.7 0M79.3 494.76a2.85 2.85 0 1 0 5.7 0a2.85 2.85 0 1 0 -5.7 0M81.33 493.81a2.85 2.85 0 1 0 5.7 0a2.85 2.85 0 1 0 -5.7 0M83.49 492.77a2.85 2.85 0 1 0 5.7 0a2.85 2.85 0 1 0 -5.7 0M85.77 491.62a2.85 2.85 0 1 0 5.7 0a2.85 2.85 0 1 0 -5.7 0M88.18 490.36a2.85 2.85 0 1 0 5.7 0a2.85 2.85 0 1 0 -5.7 0M90.75 488.98a2.85 2.85 0 1 0 5.7 0a2.85 2.85 0 1 0 -5.7 0M93.46 487.47a2.85 2.85 0 1 0 5.7 0a2.85 2.85 0 1 0 -5.7 0M96.33 485.82a2.85 2.85 0 1 0 5.7 0a2.85 2.85 0 1 0 -5.7 0M99.38 484.02a2.85 2.85 0 1 0 5.7 0a2.85 2.85 0 1 0 -5.7 0M102.6 482.07a2.85 2.85 0 1 0 5.7 0a2.85 2.85 0 1 0 -5.7 0M106.02 479.95a2.85 2.85 0 1 0 5.7 0a2.85 2.85 0 1 0 -5.7 0M109.65 477.64a2.85 2.85 0 1 0 5.7 0a2.85 2.85 0 1 0 -5.7 0M113.48 475.15a2.85 2.85 0 1 0 5.7 0a2.85 2.85 0 1 0 -5.7 0M117.55 472.45a2.85 2.85 0 1 0 5.7 0a2.85 2.85 0 1 0 -5.7 0M121.86 469.54a2.85 2.85 0 1 0 5.7 0a2.85 2.85 0 1 0 -5.7 0M126.42 466.41a2.85 2.85 0 1 0 5.7 0a2.85 2.85 0 1 0 -5.7 0M131.26 463.03a2.85 2.85 0 1 0 5.7 0a2.85 2.85 0 1 0 -5.7 0M136.38 459.4a2.85 2.85 0 1 0 5.7 0a2.85 2.85 0 1 0 -5.7 0M141.81 455.5a2.85 2.85 0 1 0 5.7 0a2.85 2.85 0 1 0 -5.7 0M147.56 451.31a2.85 2.85 0 1 0 5.7 0a2.85 2.85 0 1 0 -5.7 0M153.65 446.83a2.85 2.85 0 1 0 5.7 0a2.85 2.85 0 1 0 -5.7 0M160.11 442.04a2.85 2.85 0 1 0 5.7 0a2.85 2.85 0 1 0 -5.7 0M166.95 436.91a2.85 2.85 0 1 0 5.7 0a2.85 2.85 0 1 0 -5.7 0M174.19 431.43a2.85 2.85 0 1 0 5.7 0a2.85 2.85 0 1 0 -5.7 0M181.87 425.58a2.85 2.85 0 1 0 5.7 0a2.85 2.85 0 1 0 -5.7 0M190.01 419.34a2.85 2.85 0 1 0 5.7 0a2.85 2.85 0 1 0 -5.7 0M198.63 412.68a2.85 2.85 0 1 0 5.7 0a2.85 2.85 0 1 0 -5.7 0M207.76 405.6a2.85 2.85 0 1 0 5.7 0a2.85 2.85 0 1 0 -5.7 0M217.43 398.05a2.85 2.85 0 1 0 5.7 0a2.85 2.85 0 1 0 -5.7 0M227.68 390.01a2.85 2.85 0 1 0 5.7 0a2.85 2.85 0 1 0 -5.7 0M238.55 381.47a2.85 2.85 0 1 0 5.7 0a2.85 2.85 0 1 0 -5.7 0M250.05 372.38a2.85 2.85 0 1 0 5.7 0a2.85 2.85 0 1 0 -5.7 0M262.24 362.72a2.85 2.85 0 1 0 5.7 0a2.85 2.85 0 1 0 -5.7 0M275.16 352.45a2.85 2.85 0 1 0 5.7 0a2.85 2.85 0 1 0 -5.7 0M288.85 341.55a2.85 2.85 0 1 0 5.7 0a2.85 2.85 0 1 0 -5.7 0M303.35 329.97a2.85 2.85 0 1 0 5.7 0a2.85 2.85 0 1 0 -5.7 0"/>
</g>
<g font-family="Liberation Sans, sans-serif" font-size="11" fill="#161616">
<text x="48" y="558.8" text-anchor="middle">0</text>
<text x="88.04" y="558.8" text-anchor="middle">0<tspan dx="-0.9">.</tspan><tspan dx="-0.9">5</tspan></text>
<text x="128.09" y="558.8" text-anchor="middle">1</text>
<text x="168.13" y="558.8" text-anchor="middle">1<tspan dx="-0.9">.</tspan><tspan dx="-0.9">5</tspan></text>
<text x="208.17" y="558.8" text-anchor="middle">2</text>
<text x="248.21" y="558.8" text-anchor="middle">2<tspan dx="-0.9">.</tspan><tspan dx="-0.9">5</tspan></text>
<text x="288.26" y="558.8" text-anchor="middle">3</text>
<text x="328.3" y="558.8" text-anchor="middle">3<tspan dx="-0.9">.</tspan><tspan dx="-0.9">5</tspan></text>
<text x="42.3" y="547.9" text-anchor="end">0</text>
<text x="42.3" y="521.93" text-anchor="end">5</text>
<text x="43.7" y="495.97" text-anchor="end">10</text>
<text x="43.7" y="470" text-anchor="end">15</text>
<text x="43.7" y="444.03" text-anchor="end">20</text>
<text x="43.7" y="418.07" text-anchor="end">25</text>
<text x="43.7" y="392.1" text-anchor="end">30</text>
<text x="43.7" y="366.13" text-anchor="end">35</text>
<text x="43.7" y="340.17" text-anchor="end">40</text>
<text x="43.7" y="314.2" text-anchor="end">45</text>
<text x="303.8" y="576.6" font-size="12">×</text>
<text x="323.8" y="576.1" text-anchor="end">10</text>
<text x="325.75" y="570.6" font-size="9">4</text>
</g>
<text x="150.8" y="577.3" font-family="Liberation Serif, serif" font-size="13.2" fill="#000">Frequency [Hz]</text>
<text transform="translate(11.9 468.7) rotate(-90)" x="0" y="0" font-family="Liberation Serif, serif" font-size="13.2" fill="#000">Wavenumber [1/m]</text>
<text x="0.05" y="315.15" font-family="Liberation Serif, serif" font-weight="bold" font-size="19" fill="#000">(c)</text>
<rect x="403.6" y="317.0" width="275" height="229" fill="none" stroke="#262626" stroke-width="1"/>
<path d="M403.6 546v-3.3M403.6 317v3.3M442.89 546v-3.3M442.89 317v3.3M482.17 546v-3.3M482.17 317v3.3M521.46 546v-3.3M521.46 317v3.3M560.74 546v-3.3M560.74 317v3.3M600.03 546v-3.3M600.03 317v3.3M639.31 546v-3.3M639.31 317v3.3M678.6 546v-3.3M678.6 317v3.3M403.6 546h3.3M678.6 546h-3.3M403.6 523.1h3.3M678.6 523.1h-3.3M403.6 500.2h3.3M678.6 500.2h-3.3M403.6 477.3h3.3M678.6 477.3h-3.3M403.6 454.4h3.3M678.6 454.4h-3.3M403.6 431.5h3.3M678.6 431.5h-3.3M403.6 408.6h3.3M678.6 408.6h-3.3M403.6 385.7h3.3M678.6 385.7h-3.3M403.6 362.8h3.3M678.6 362.8h-3.3M403.6 339.9h3.3M678.6 339.9h-3.3M403.6 317h3.3M678.6 317h-3.3" stroke="#111" stroke-width="1.15" fill="none"/>
<clipPath id="cpd"><rect x="399.6" y="313.0" width="283.0" height="237.0"/></clipPath>
<g clip-path="url(#cpd)" fill="none" stroke-width="1.1">
<polyline stroke="#000000" points="404.43,545.34 404.48,545.3 404.53,545.26 404.59,545.21 404.64,545.17 404.71,545.12 404.77,545.06 404.84,545.01 404.92,544.95 404.99,544.89 405.08,544.82 405.17,544.75 405.26,544.68 405.36,544.6 405.46,544.51 405.57,544.42 405.69,544.33 405.82,544.23 405.95,544.13 406.09,544.01 406.23,543.9 406.39,543.77 406.56,543.64 406.73,543.5 406.92,543.35 407.12,543.19 407.33,543.02 407.55,542.85 407.78,542.66 408.03,542.46 408.3,542.25 408.58,542.03 408.87,541.79 409.18,541.54 409.52,541.27 409.87,540.99 410.24,540.7 410.64,540.38 411.06,540.05 411.5,539.69 411.97,539.32 412.47,538.92 413,538.5 413.55,538.05 414.15,537.58 414.77,537.08 415.44,536.55 416.14,535.98 416.89,535.39 417.68,534.76 418.52,534.09 419.41,533.38 420.35,532.63 421.34,531.83 422.4,530.99 423.52,530.09 424.7,529.15 425.96,528.15 427.29,527.08 428.7,525.96 430.19,524.77 431.77,523.5 433.45,522.16 435.22,520.75 437.11,519.24 439.1,517.65 441.21,515.96 443.45,514.18 445.82,512.28 448.33,510.28 450.99,508.15 453.81,505.9 456.8,503.51 459.97,500.99 463.32,498.31 466.88,495.47 470.64,492.46 474.63,489.28 478.86,485.9 483.33,482.33 488.08,478.54 493.1,474.52 498.43,470.27 504.07,465.76 510.05,460.99 516.38,455.93 523.09,450.57 530.2,444.9 537.74,438.88 545.72,432.51 554.17,425.75 563.13,418.6 572.63,411.02 582.68,402.99 593.34,394.48 604.63,385.46 616.59,375.91 629.26,365.79 642.69,355.07 656.91,343.71"/>
<polyline stroke="#ff0000" points="433.45,535.47 435.22,532.56 437.11,529.92 439.1,527.39 441.21,524.91 443.45,522.43 445.82,519.93 448.33,517.38 450.99,514.77 453.81,512.08 456.8,509.29 459.97,506.39 463.32,503.37 466.88,500.22 470.64,496.92 474.63,493.46 478.86,489.84 483.33,486.02 488.08,482.02 493.1,477.8 498.43,473.35 504.07,468.67 510.05,463.72 516.38,458.51 523.09,453 530.2,447.18 537.74,441.04 545.72,434.54 554.17,427.67 563.13,420.41 572.63,412.72 582.68,404.59 593.34,395.99 604.63,386.89 616.59,377.26 629.26,367.06 642.69,356.27 656.91,344.84"/>
<path stroke="#ff0000" stroke-width="1.2" d="M430.45 535.47h6M433.45 532.47v6M432.22 532.56h6M435.22 529.56v6M434.11 529.92h6M437.11 526.92v6M436.1 527.39h6M439.1 524.39v6M438.21 524.91h6M441.21 521.91v6M440.45 522.43h6M443.45 519.43v6M442.82 519.93h6M445.82 516.93v6M445.33 517.38h6M448.33 514.38v6M447.99 514.77h6M450.99 511.77v6M450.81 512.08h6M453.81 509.08v6M453.8 509.29h6M456.8 506.29v6M456.97 506.39h6M459.97 503.39v6M460.32 503.37h6M463.32 500.37v6M463.88 500.22h6M466.88 497.22v6M467.64 496.92h6M470.64 493.92v6M471.63 493.46h6M474.63 490.46v6M475.86 489.84h6M478.86 486.84v6M480.33 486.02h6M483.33 483.02v6M485.08 482.02h6M488.08 479.02v6M490.1 477.8h6M493.1 474.8v6M495.43 473.35h6M498.43 470.35v6M501.07 468.67h6M504.07 465.67v6M507.05 463.72h6M510.05 460.72v6M513.38 458.51h6M516.38 455.51v6M520.09 453h6M523.09 450v6M527.2 447.18h6M530.2 444.18v6M534.74 441.04h6M537.74 438.04v6M542.72 434.54h6M545.72 431.54v6M551.17 427.67h6M554.17 424.67v6M560.13 420.41h6M563.13 417.41v6M569.63 412.72h6M572.63 409.72v6M579.68 404.59h6M582.68 401.59v6M590.34 395.99h6M593.34 392.99v6M601.63 386.89h6M604.63 383.89v6M613.59 377.26h6M616.59 374.26v6M626.26 367.06h6M629.26 364.06v6M639.69 356.27h6M642.69 353.27v6M653.91 344.84h6M656.91 341.84v6"/>
<polyline stroke="#0000ff" points="466.88,522.17 470.64,514.96 474.63,509.25 478.86,504.07 483.33,499.2 488.08,494.43 493.1,488.69 498.43,483.31 504.07,477.51 510.05,472.26 516.38,465.24 523.09,458.31 530.2,452.61 537.74,446.74 545.72,440.09 554.17,432.96 563.13,425.34 572.63,417.1 582.68,408.3 593.34,399.1 604.63,389.7 616.59,379.96 629.26,369.84 642.69,359.38 656.91,348.6"/>
<path stroke="#0000ff" stroke-width="1.2" d="M464.38 519.67l5 5M464.38 524.67l5 -5M468.14 512.46l5 5M468.14 517.46l5 -5M472.13 506.75l5 5M472.13 511.75l5 -5M476.36 501.57l5 5M476.36 506.57l5 -5M480.83 496.7l5 5M480.83 501.7l5 -5M485.58 491.93l5 5M485.58 496.93l5 -5M490.6 486.19l5 5M490.6 491.19l5 -5M495.93 480.81l5 5M495.93 485.81l5 -5M501.57 475.01l5 5M501.57 480.01l5 -5M507.55 469.76l5 5M507.55 474.76l5 -5M513.88 462.74l5 5M513.88 467.74l5 -5M520.59 455.81l5 5M520.59 460.81l5 -5M527.7 450.11l5 5M527.7 455.11l5 -5M535.24 444.24l5 5M535.24 449.24l5 -5M543.22 437.59l5 5M543.22 442.59l5 -5M551.67 430.46l5 5M551.67 435.46l5 -5M560.63 422.84l5 5M560.63 427.84l5 -5M570.13 414.6l5 5M570.13 419.6l5 -5M580.18 405.8l5 5M580.18 410.8l5 -5M590.84 396.6l5 5M590.84 401.6l5 -5M602.13 387.2l5 5M602.13 392.2l5 -5M614.09 377.46l5 5M614.09 382.46l5 -5M626.76 367.34l5 5M626.76 372.34l5 -5M640.19 356.88l5 5M640.19 361.88l5 -5M654.41 346.1l5 5M654.41 351.1l5 -5"/>
<polyline stroke="#00ff00" points="478.86,520.22 483.33,513.12 488.08,505.79 493.1,498.89 498.43,492.36 504.07,484.52 510.05,477.02 516.38,471.1 523.09,465.1 530.2,457.89 537.74,450.35 545.72,443.06 554.17,435.72 563.13,428.34 572.63,419.34 582.68,410.07 593.34,400.46 604.63,390.52 616.59,380.35 629.26,370.09 642.69,358.22 656.91,346.54"/>
<path stroke="#00ff00" stroke-width="1.2" d="M475.61 520.22h6.5M478.86 516.97v6.5M476.52 517.88l4.68 4.68M476.52 522.56l4.68 -4.68M480.08 513.12h6.5M483.33 509.87v6.5M480.99 510.78l4.68 4.68M480.99 515.46l4.68 -4.68M484.83 505.79h6.5M488.08 502.54v6.5M485.74 503.45l4.68 4.68M485.74 508.13l4.68 -4.68M489.85 498.89h6.5M493.1 495.64v6.5M490.76 496.55l4.68 4.68M490.76 501.23l4.68 -4.68M495.18 492.36h6.5M498.43 489.11v6.5M496.09 490.02l4.68 4.68M496.09 494.7l4.68 -4.68M500.82 484.52h6.5M504.07 481.27v6.5M501.73 482.18l4.68 4.68M501.73 486.86l4.68 -4.68M506.8 477.02h6.5M510.05 473.77v6.5M507.71 474.68l4.68 4.68M507.71 479.36l4.68 -4.68M513.13 471.1h6.5M516.38 467.85v6.5M514.04 468.76l4.68 4.68M514.04 473.44l4.68 -4.68M519.84 465.1h6.5M523.09 461.85v6.5M520.75 462.76l4.68 4.68M520.75 467.44l4.68 -4.68M526.95 457.89h6.5M530.2 454.64v6.5M527.86 455.55l4.68 4.68M527.86 460.23l4.68 -4.68M534.49 450.35h6.5M537.74 447.1v6.5M535.4 448.01l4.68 4.68M535.4 452.69l4.68 -4.68M542.47 443.06h6.5M545.72 439.81v6.5M543.38 440.72l4.68 4.68M543.38 445.4l4.68 -4.68M550.92 435.72h6.5M554.17 432.47v6.5M551.83 433.38l4.68 4.68M551.83 438.06l4.68 -4.68M559.88 428.34h6.5M563.13 425.09v6.5M560.79 426l4.68 4.68M560.79 430.68l4.68 -4.68M569.38 419.34h6.5M572.63 416.09v6.5M570.29 417l4.68 4.68M570.29 421.68l4.68 -4.68M579.43 410.07h6.5M582.68 406.82v6.5M580.34 407.73l4.68 4.68M580.34 412.41l4.68 -4.68M590.09 400.46h6.5M593.34 397.21v6.5M591 398.12l4.68 4.68M591 402.8l4.68 -4.68M601.38 390.52h6.5M604.63 387.27v6.5M602.29 388.18l4.68 4.68M602.29 392.86l4.68 -4.68M613.34 380.35h6.5M616.59 377.1v6.5M614.25 378.01l4.68 4.68M614.25 382.69l4.68 -4.68M626.01 370.09h6.5M629.26 366.84v6.5M626.92 367.75l4.68 4.68M626.92 372.43l4.68 -4.68M639.44 358.22h6.5M642.69 354.97v6.5M640.35 355.88l4.68 4.68M640.35 360.56l4.68 -4.68M653.66 346.54h6.5M656.91 343.29v6.5M654.57 344.2l4.68 4.68M654.57 348.88l4.68 -4.68"/>
<polyline stroke="#ff00ff" points="483.33,512.67 488.08,505.33 493.1,498.21 498.43,491.67 504.07,484.31 510.05,475.54 516.38,469.4 523.09,462.8 530.2,454.96 537.74,447.35 545.72,439.38 554.17,431.08 563.13,422.06 572.63,412.67 582.68,403.93 593.34,395.19 604.63,385.49 616.59,373.95 629.26,363.23 642.69,351.12 656.91,338.3"/>
<path stroke="#ff00ff" stroke-width="1.2" d="M480.48 512.67a2.85 2.85 0 1 0 5.7 0a2.85 2.85 0 1 0 -5.7 0M485.23 505.33a2.85 2.85 0 1 0 5.7 0a2.85 2.85 0 1 0 -5.7 0M490.25 498.21a2.85 2.85 0 1 0 5.7 0a2.85 2.85 0 1 0 -5.7 0M495.58 491.67a2.85 2.85 0 1 0 5.7 0a2.85 2.85 0 1 0 -5.7 0M501.22 484.31a2.85 2.85 0 1 0 5.7 0a2.85 2.85 0 1 0 -5.7 0M507.2 475.54a2.85 2.85 0 1 0 5.7 0a2.85 2.85 0 1 0 -5.7 0M513.53 469.4a2.85 2.85 0 1 0 5.7 0a2.85 2.85 0 1 0 -5.7 0M520.24 462.8a2.85 2.85 0 1 0 5.7 0a2.85 2.85 0 1 0 -5.7 0M527.35 454.96a2.85 2.85 0 1 0 5.7 0a2.85 2.85 0 1 0 -5.7 0M534.89 447.35a2.85 2.85 0 1 0 5.7 0a2.85 2.85 0 1 0 -5.7 0M542.87 439.38a2.85 2.85 0 1 0 5.7 0a2.85 2.85 0 1 0 -5.7 0M551.32 431.08a2.85 2.85 0 1 0 5.7 0a2.85 2.85 0 1 0 -5.7 0M560.28 422.06a2.85 2.85 0 1 0 5.7 0a2.85 2.85 0 1 0 -5.7 0M569.78 412.67a2.85 2.85 0 1 0 5.7 0a2.85 2.85 0 1 0 -5.7 0M579.83 403.93a2.85 2.85 0 1 0 5.7 0a2.85 2.85 0 1 0 -5.7 0M590.49 395.19a2.85 2.85 0 1 0 5.7 0a2.85 2.85 0 1 0 -5.7 0M601.78 385.49a2.85 2.85 0 1 0 5.7 0a2.85 2.85 0 1 0 -5.7 0M613.74 373.95a2.85 2.85 0 1 0 5.7 0a2.85 2.85 0 1 0 -5.7 0M626.41 363.23a2.85 2.85 0 1 0 5.7 0a2.85 2.85 0 1 0 -5.7 0M639.84 351.12a2.85 2.85 0 1 0 5.7 0a2.85 2.85 0 1 0 -5.7 0M654.06 338.3a2.85 2.85 0 1 0 5.7 0a2.85 2.85 0 1 0 -5.7 0"/>
</g>
<g font-family="Liberation Sans, sans-serif" font-size="11" fill="#161616">
<text x="403.6" y="560.8" text-anchor="middle">0</text>
<text x="442.89" y="560.8" text-anchor="middle">0<tspan dx="-0.9">.</tspan><tspan dx="-0.9">5</tspan></text>
<text x="482.17" y="560.8" text-anchor="middle">1</text>
<text x="521.46" y="560.8" text-anchor="middle">1<tspan dx="-0.9">.</tspan><tspan dx="-0.9">5</tspan></text>
<text x="560.74" y="560.8" text-anchor="middle">2</text>
<text x="600.03" y="560.8" text-anchor="middle">2<tspan dx="-0.9">.</tspan><tspan dx="-0.9">5</tspan></text>
<text x="639.31" y="560.8" text-anchor="middle">3</text>
<text x="678.6" y="560.8" text-anchor="middle">3<tspan dx="-0.9">.</tspan><tspan dx="-0.9">5</tspan></text>
<text x="397.4" y="549.7" text-anchor="end">0</text>
<text x="398.8" y="526.8" text-anchor="end">10</text>
<text x="398.8" y="503.9" text-anchor="end">20</text>
<text x="398.8" y="481" text-anchor="end">30</text>
<text x="398.8" y="458.1" text-anchor="end">40</text>
<text x="398.8" y="435.2" text-anchor="end">50</text>
<text x="398.8" y="412.3" text-anchor="end">60</text>
<text x="398.8" y="389.4" text-anchor="end">70</text>
<text x="398.8" y="366.5" text-anchor="end">80</text>
<text x="398.8" y="343.6" text-anchor="end">90</text>
<text x="400.2" y="320.7" text-anchor="end">100</text>
<text x="654.3" y="577.4" font-size="12">×</text>
<text x="675.1" y="576.9" text-anchor="end">10</text>
<text x="676.05" y="571.8" font-size="9">4</text>
</g>
<text x="503.6" y="581.7" font-family="Liberation Serif, serif" font-size="13.2" fill="#000">Frequency [Hz]</text>
<text transform="translate(369.2 480.1) rotate(-90)" x="0" y="0" font-family="Liberation Serif, serif" font-size="13.2" fill="#000">Wavenumber [1/m]</text>
<text x="351.15" y="316.85" font-family="Liberation Serif, serif" font-weight="bold" font-size="19" fill="#000">(d)</text>
</svg>
</body></html>
